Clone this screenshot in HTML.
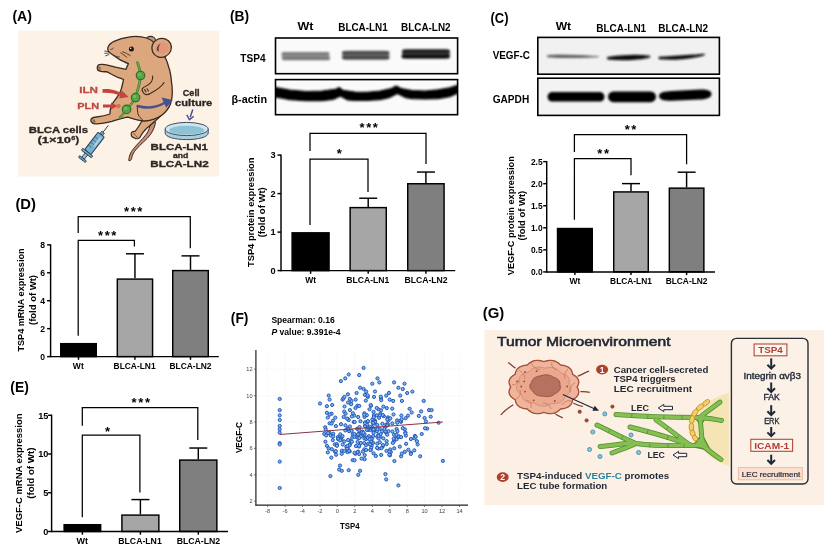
<!DOCTYPE html>
<html lang="en"><head><meta charset="utf-8"><title>Figure</title>
<style>html,body{margin:0;padding:0;background:#fff;}body{width:824px;height:554px;overflow:hidden;}svg{display:block;font-family:'Liberation Sans', 'DejaVu Sans', sans-serif;}</style>
</head><body>
<svg width="824" height="554" viewBox="0 0 824 554">
<defs><filter id="b1" x="-10%" y="-50%" width="120%" height="200%"><feGaussianBlur stdDeviation="1.1"/></filter><filter id="b2" x="-10%" y="-50%" width="120%" height="200%"><feGaussianBlur stdDeviation="0.8"/></filter><filter id="soft"><feGaussianBlur stdDeviation="0.4"/></filter></defs>
<rect width="824" height="554" fill="#fff"/>
<g filter="url(#soft)">
<text x="12.4" y="20.6" font-size="14.8" font-weight="bold" fill="#000" textLength="19.5" lengthAdjust="spacingAndGlyphs">(A)</text>
<text x="229.9" y="21.3" font-size="14.8" font-weight="bold" fill="#000" textLength="19.2" lengthAdjust="spacingAndGlyphs">(B)</text>
<text x="490.5" y="22.6" font-size="14.8" font-weight="bold" fill="#000" textLength="18" lengthAdjust="spacingAndGlyphs">(C)</text>
<text x="15.4" y="209" font-size="14.5" font-weight="bold" fill="#000" textLength="20.5" lengthAdjust="spacingAndGlyphs">(D)</text>
<text x="10.3" y="392" font-size="14.5" font-weight="bold" fill="#000" textLength="18.5" lengthAdjust="spacingAndGlyphs">(E)</text>
<text x="230.8" y="323.4" font-size="15" font-weight="bold" fill="#000" textLength="17.6" lengthAdjust="spacingAndGlyphs">(F)</text>
<text x="482.8" y="317.6" font-size="14.8" font-weight="bold" fill="#000" textLength="21.5" lengthAdjust="spacingAndGlyphs">(G)</text>
<text x="305.4" y="30" font-size="10.5" font-weight="bold" fill="#000" text-anchor="middle" textLength="16" lengthAdjust="spacingAndGlyphs">Wt</text>
<text x="363" y="30.5" font-size="10.5" font-weight="bold" fill="#000" text-anchor="middle" textLength="49.5" lengthAdjust="spacingAndGlyphs">BLCA-LN1</text>
<text x="425.8" y="30.5" font-size="10.5" font-weight="bold" fill="#000" text-anchor="middle" textLength="49.5" lengthAdjust="spacingAndGlyphs">BLCA-LN2</text>
<text x="240.3" y="61.5" font-size="10.5" font-weight="bold" fill="#000" textLength="25.2" lengthAdjust="spacingAndGlyphs">TSP4</text>
<text x="231.5" y="103" font-size="10.5" font-weight="bold" fill="#000" textLength="35.5" lengthAdjust="spacingAndGlyphs">β-actin</text>
<clipPath id="cb1"><rect x="276" y="38.6" width="181" height="34.5"/></clipPath>
<clipPath id="cb2"><rect x="276" y="80.2" width="181" height="34"/></clipPath>
<rect x="275.5" y="38" width="182.10" height="35.70" fill="#fafafa" stroke="#000" stroke-width="1.6"/>
<rect x="275.5" y="79.6" width="182.10" height="35.10" fill="#fafafa" stroke="#000" stroke-width="1.6"/>
<g clip-path="url(#cb1)"><g filter="url(#b1)">
<rect x="281.5" y="51.90" width="48.00" height="8.2" rx="4.10" fill="#a2a2a2"/>
<rect x="281.5" y="52.10" width="48.00" height="3.4" rx="1.70" fill="#7d7d7d"/>
<rect x="282" y="56.60" width="48.00" height="3.6" rx="1.80" fill="#777"/>
<rect x="342" y="50.80" width="47.50" height="8.6" rx="4.30" fill="#7a7a7a"/>
<rect x="342" y="51.00" width="47.50" height="3.6" rx="1.80" fill="#484848"/>
<rect x="342" y="55.70" width="47.50" height="3.8" rx="1.90" fill="#444"/>
<rect x="402" y="49.20" width="48.00" height="9.2" rx="4.60" fill="#555"/>
<rect x="402" y="49.60" width="48.00" height="3.6" rx="1.80" fill="#1a1a1a"/>
<rect x="401.5" y="54.30" width="48.50" height="4.2" rx="2.10" fill="#0c0c0c"/>
</g></g>
<g clip-path="url(#cb2)"><g filter="url(#b2)">
<path d="M272,87.5 L277.3,87.9 L290,90.2 L306.4,91.5 L322,91 L335.5,89.3 L339.2,87.6 L342.8,90.3 L355,92 L367.1,92.3 L380,91 L391.4,88.6 L396.2,86 L401.1,88.6 L412,90.6 L425.3,91 L438,89.8 L449.6,87.9 L456.9,85.5 L461,84.5 L461,92.5 L456.9,93.5 L449.6,96.6 L438,98.6 L425.3,99 L412,98.6 L405.9,97.6 L397.4,93.5 L388.9,97.6 L380,99.6 L367.1,100.3 L355,100.4 L347.7,100 L340.4,95.9 L333.1,99.5 L322,100.6 L306.4,100.7 L290,99.6 L279.7,97.6 L272,96.5 Z" fill="#000" stroke="#000" stroke-width="1.2" stroke-linejoin="round"/>
</g></g>
<rect x="292.12" y="232.83" width="36.95" height="37.77" fill="#000" stroke="#000" stroke-width="1.45"/>
<line x1="310.6" y1="270.6" x2="310.6" y2="273.8" stroke="#000" stroke-width="1.45"/>
<line x1="368.2" y1="206.88250000000002" x2="368.2" y2="198.22000000000003" stroke="#000" stroke-width="1.45"/>
<line x1="359.2" y1="198.22000000000003" x2="377.2" y2="198.22000000000003" stroke="#000" stroke-width="1.45"/>
<rect x="350.12" y="207.61" width="36.15" height="62.99" fill="#a6a6a6" stroke="#000" stroke-width="1.45"/>
<line x1="368.2" y1="270.6" x2="368.2" y2="273.8" stroke="#000" stroke-width="1.45"/>
<line x1="425.9" y1="183.01250000000005" x2="425.9" y2="172.04000000000002" stroke="#000" stroke-width="1.45"/>
<line x1="416.9" y1="172.04000000000002" x2="434.9" y2="172.04000000000002" stroke="#000" stroke-width="1.45"/>
<rect x="407.73" y="183.74" width="36.35" height="86.86" fill="#7f7f7f" stroke="#000" stroke-width="1.45"/>
<line x1="425.9" y1="270.6" x2="425.9" y2="273.8" stroke="#000" stroke-width="1.45"/>
<line x1="281" y1="154.50000000000003" x2="281" y2="271.20000000000005" stroke="#000" stroke-width="1.45"/>
<line x1="280.4" y1="270.6" x2="455.2" y2="270.6" stroke="#000" stroke-width="1.45"/>
<line x1="277.5" y1="270.6" x2="281" y2="270.6" stroke="#000" stroke-width="1.45"/>
<text x="275.5" y="273.91200000000003" font-size="9.2" font-weight="bold" fill="#000" text-anchor="end">0</text>
<line x1="277.5" y1="232.10000000000002" x2="281" y2="232.10000000000002" stroke="#000" stroke-width="1.45"/>
<text x="275.5" y="235.41200000000003" font-size="9.2" font-weight="bold" fill="#000" text-anchor="end">1</text>
<line x1="277.5" y1="193.60000000000002" x2="281" y2="193.60000000000002" stroke="#000" stroke-width="1.45"/>
<text x="275.5" y="196.91200000000003" font-size="9.2" font-weight="bold" fill="#000" text-anchor="end">2</text>
<line x1="277.5" y1="155.10000000000002" x2="281" y2="155.10000000000002" stroke="#000" stroke-width="1.45"/>
<text x="275.5" y="158.41200000000003" font-size="9.2" font-weight="bold" fill="#000" text-anchor="end">3</text>
<text x="310.6" y="282.9" font-size="8.5" font-weight="bold" fill="#000" text-anchor="middle">Wt</text>
<text x="367.8" y="282.9" font-size="8.5" font-weight="bold" fill="#000" text-anchor="middle" textLength="43" lengthAdjust="spacingAndGlyphs">BLCA-LN1</text>
<text x="426" y="282.9" font-size="8.5" font-weight="bold" fill="#000" text-anchor="middle" textLength="43.2" lengthAdjust="spacingAndGlyphs">BLCA-LN2</text>
<polyline points="310,151 310,133.3 426,133.3 426,164" fill="none" stroke="#000" stroke-width="1.25"/>
<text x="369.5" y="132.1" font-size="13" font-weight="bold" fill="#000" text-anchor="middle" letter-spacing="1.6">***</text>
<polyline points="310,225 310,159 368,159 368,192" fill="none" stroke="#000" stroke-width="1.25"/>
<text x="340" y="158.1" font-size="13" font-weight="bold" fill="#000" text-anchor="middle" letter-spacing="1.6">*</text>
<text transform="translate(253.96,212.30) rotate(-90)" font-size="9.6" font-weight="bold" fill="#000" text-anchor="middle" textLength="109.5" lengthAdjust="spacingAndGlyphs">TSP4 protein expression</text>
<text transform="translate(265.46,212.30) rotate(-90)" font-size="9.6" font-weight="bold" fill="#000" text-anchor="middle" textLength="50" lengthAdjust="spacingAndGlyphs">(fold of Wt)</text>
<text x="563.4" y="30" font-size="10.5" font-weight="bold" fill="#000" text-anchor="middle" textLength="15.5" lengthAdjust="spacingAndGlyphs">Wt</text>
<text x="621.2" y="32" font-size="10.5" font-weight="bold" fill="#000" text-anchor="middle" textLength="50" lengthAdjust="spacingAndGlyphs">BLCA-LN1</text>
<text x="683.2" y="31.5" font-size="10.5" font-weight="bold" fill="#000" text-anchor="middle" textLength="49.8" lengthAdjust="spacingAndGlyphs">BLCA-LN2</text>
<text x="492.7" y="59.3" font-size="10.5" font-weight="bold" fill="#000" textLength="37.3" lengthAdjust="spacingAndGlyphs">VEGF-C</text>
<text x="492.7" y="103" font-size="10.5" font-weight="bold" fill="#000" textLength="36.5" lengthAdjust="spacingAndGlyphs">GAPDH</text>
<clipPath id="cc1"><rect x="538.2" y="37.6" width="181" height="36.8"/></clipPath>
<clipPath id="cc2"><rect x="538.2" y="79" width="181" height="36.6"/></clipPath>
<rect x="537.8" y="37.4" width="181.60" height="36.80" fill="#f1f1f1" stroke="#000" stroke-width="1.6"/>
<rect x="537.8" y="78.2" width="181.60" height="37.20" fill="#f3f3f3" stroke="#000" stroke-width="1.6"/>
<g clip-path="url(#cc1)"><g filter="url(#b2)">
<path d="M547.5,55.6 C560,54.4 580,55.6 598.5,56.6 C580,58 560,57.8 547.5,56.8 Z" fill="#555" stroke="#666" stroke-width="1"/>
<path d="M608,57.8 C618,55.6 640,55.2 650,56.6 C640,59.6 618,60 608,58.6 Z" fill="#0a0a0a" stroke="#111" stroke-width="1.8"/>
<path d="M659.5,57.6 C672,56.6 692,55.6 704.5,54.6 C694,58.4 672,59.6 659.5,58.4 Z" fill="#0a0a0a" stroke="#111" stroke-width="1.6"/>
</g></g>
<g clip-path="url(#cc2)"><g filter="url(#b2)">
<rect x="547.5" y="92" width="57" height="9.6" rx="4.8" fill="#000"/>
<rect x="608" y="91.4" width="48" height="10.8" rx="5.4" fill="#000"/>
<path d="M659,96 C659,92.5 664,91.4 672,91 L700,89.6 C708,89.4 711.5,91 711.5,94 C711.5,97.5 707,99.2 700,99.6 L672,100.8 C664,101 659,99.5 659,96 Z" fill="#000"/>
</g></g>
<rect x="557.52" y="228.52" width="34.75" height="43.37" fill="#000" stroke="#000" stroke-width="1.45"/>
<line x1="574.9" y1="271.9" x2="574.9" y2="275.09999999999997" stroke="#000" stroke-width="1.45"/>
<line x1="631.0" y1="191.19699999999997" x2="631.0" y2="183.61179999999996" stroke="#000" stroke-width="1.45"/>
<line x1="622.0" y1="183.61179999999996" x2="640.0" y2="183.61179999999996" stroke="#000" stroke-width="1.45"/>
<rect x="613.73" y="191.92" width="34.55" height="79.98" fill="#a6a6a6" stroke="#000" stroke-width="1.45"/>
<line x1="631.0" y1="271.9" x2="631.0" y2="275.09999999999997" stroke="#000" stroke-width="1.45"/>
<line x1="686.6" y1="187.40439999999998" x2="686.6" y2="172.18989999999997" stroke="#000" stroke-width="1.45"/>
<line x1="677.6" y1="172.18989999999997" x2="695.6" y2="172.18989999999997" stroke="#000" stroke-width="1.45"/>
<rect x="669.33" y="188.13" width="34.55" height="83.77" fill="#7f7f7f" stroke="#000" stroke-width="1.45"/>
<line x1="686.6" y1="271.9" x2="686.6" y2="275.09999999999997" stroke="#000" stroke-width="1.45"/>
<line x1="546.7" y1="161.04999999999998" x2="546.7" y2="272.5" stroke="#000" stroke-width="1.45"/>
<line x1="546.1" y1="271.9" x2="715" y2="271.9" stroke="#000" stroke-width="1.45"/>
<line x1="543.2" y1="271.9" x2="546.7" y2="271.9" stroke="#000" stroke-width="1.45"/>
<text x="542.6" y="274.924" font-size="8.4" font-weight="bold" fill="#000" text-anchor="end">0.0</text>
<line x1="543.2" y1="249.84999999999997" x2="546.7" y2="249.84999999999997" stroke="#000" stroke-width="1.45"/>
<text x="542.6" y="252.87399999999997" font-size="8.4" font-weight="bold" fill="#000" text-anchor="end">0.5</text>
<line x1="543.2" y1="227.79999999999998" x2="546.7" y2="227.79999999999998" stroke="#000" stroke-width="1.45"/>
<text x="542.6" y="230.82399999999998" font-size="8.4" font-weight="bold" fill="#000" text-anchor="end">1.0</text>
<line x1="543.2" y1="205.74999999999997" x2="546.7" y2="205.74999999999997" stroke="#000" stroke-width="1.45"/>
<text x="542.6" y="208.77399999999997" font-size="8.4" font-weight="bold" fill="#000" text-anchor="end">1.5</text>
<line x1="543.2" y1="183.7" x2="546.7" y2="183.7" stroke="#000" stroke-width="1.45"/>
<text x="542.6" y="186.724" font-size="8.4" font-weight="bold" fill="#000" text-anchor="end">2.0</text>
<line x1="543.2" y1="161.64999999999998" x2="546.7" y2="161.64999999999998" stroke="#000" stroke-width="1.45"/>
<text x="542.6" y="164.67399999999998" font-size="8.4" font-weight="bold" fill="#000" text-anchor="end">2.5</text>
<text x="574.9" y="284.3" font-size="8.5" font-weight="bold" fill="#000" text-anchor="middle">Wt</text>
<text x="631" y="284.3" font-size="8.5" font-weight="bold" fill="#000" text-anchor="middle" textLength="41.8" lengthAdjust="spacingAndGlyphs">BLCA-LN1</text>
<text x="686.6" y="284.3" font-size="8.5" font-weight="bold" fill="#000" text-anchor="middle" textLength="41.8" lengthAdjust="spacingAndGlyphs">BLCA-LN2</text>
<polyline points="574.4,151.9 574.4,134.7 686.6,134.7 686.6,164.2" fill="none" stroke="#000" stroke-width="1.25"/>
<text x="631.3" y="134.1" font-size="13" font-weight="bold" fill="#000" text-anchor="middle" letter-spacing="1.6">**</text>
<polyline points="574.4,219.8 574.4,158.7 631,158.7 631,175.2" fill="none" stroke="#000" stroke-width="1.25"/>
<text x="603.9" y="158.1" font-size="13" font-weight="bold" fill="#000" text-anchor="middle" letter-spacing="1.6">**</text>
<text transform="translate(514.46,215.70) rotate(-90)" font-size="9.6" font-weight="bold" fill="#000" text-anchor="middle" textLength="118.9" lengthAdjust="spacingAndGlyphs">VEGF-C protein expression</text>
<text transform="translate(525.46,215.70) rotate(-90)" font-size="9.6" font-weight="bold" fill="#000" text-anchor="middle" textLength="49.7" lengthAdjust="spacingAndGlyphs">(fold of Wt)</text>
<rect x="60.73" y="343.68" width="35.55" height="12.92" fill="#000" stroke="#000" stroke-width="1.45"/>
<line x1="78.5" y1="356.6" x2="78.5" y2="359.8" stroke="#000" stroke-width="1.45"/>
<line x1="134.95" y1="278.36800000000005" x2="134.95" y2="253.78080000000003" stroke="#000" stroke-width="1.45"/>
<line x1="125.94999999999999" y1="253.78080000000003" x2="143.95" y2="253.78080000000003" stroke="#000" stroke-width="1.45"/>
<rect x="117.32" y="279.09" width="35.25" height="77.51" fill="#a6a6a6" stroke="#000" stroke-width="1.45"/>
<line x1="134.95" y1="356.6" x2="134.95" y2="359.8" stroke="#000" stroke-width="1.45"/>
<line x1="190.5" y1="269.84630000000004" x2="190.5" y2="255.87630000000001" stroke="#000" stroke-width="1.45"/>
<line x1="181.5" y1="255.87630000000001" x2="199.5" y2="255.87630000000001" stroke="#000" stroke-width="1.45"/>
<rect x="172.72" y="270.57" width="35.55" height="86.03" fill="#7f7f7f" stroke="#000" stroke-width="1.45"/>
<line x1="190.5" y1="356.6" x2="190.5" y2="359.8" stroke="#000" stroke-width="1.45"/>
<line x1="50.6" y1="244.24000000000004" x2="50.6" y2="357.20000000000005" stroke="#000" stroke-width="1.45"/>
<line x1="50.0" y1="356.6" x2="218.8" y2="356.6" stroke="#000" stroke-width="1.45"/>
<line x1="47.1" y1="356.6" x2="50.6" y2="356.6" stroke="#000" stroke-width="1.45"/>
<text x="45.1" y="359.696" font-size="8.6" font-weight="bold" fill="#000" text-anchor="end">0</text>
<line x1="47.1" y1="328.66" x2="50.6" y2="328.66" stroke="#000" stroke-width="1.45"/>
<text x="45.1" y="331.75600000000003" font-size="8.6" font-weight="bold" fill="#000" text-anchor="end">2</text>
<line x1="47.1" y1="300.72" x2="50.6" y2="300.72" stroke="#000" stroke-width="1.45"/>
<text x="45.1" y="303.81600000000003" font-size="8.6" font-weight="bold" fill="#000" text-anchor="end">4</text>
<line x1="47.1" y1="272.78000000000003" x2="50.6" y2="272.78000000000003" stroke="#000" stroke-width="1.45"/>
<text x="45.1" y="275.87600000000003" font-size="8.6" font-weight="bold" fill="#000" text-anchor="end">6</text>
<line x1="47.1" y1="244.84000000000003" x2="50.6" y2="244.84000000000003" stroke="#000" stroke-width="1.45"/>
<text x="45.1" y="247.93600000000004" font-size="8.6" font-weight="bold" fill="#000" text-anchor="end">8</text>
<text x="78.3" y="368.9" font-size="8.5" font-weight="bold" fill="#000" text-anchor="middle">Wt</text>
<text x="134.6" y="368.9" font-size="8.5" font-weight="bold" fill="#000" text-anchor="middle" textLength="42" lengthAdjust="spacingAndGlyphs">BLCA-LN1</text>
<text x="190.5" y="368.9" font-size="8.5" font-weight="bold" fill="#000" text-anchor="middle" textLength="42" lengthAdjust="spacingAndGlyphs">BLCA-LN2</text>
<polyline points="78.2,232.9 78.2,216.6 190.3,216.6 190.3,248.3" fill="none" stroke="#000" stroke-width="1.25"/>
<text x="134" y="216.2" font-size="13" font-weight="bold" fill="#000" text-anchor="middle" letter-spacing="1.6">***</text>
<polyline points="78.2,335.7 78.2,240.3 134.4,240.3 134.4,246.6" fill="none" stroke="#000" stroke-width="1.25"/>
<text x="108" y="240.0" font-size="13" font-weight="bold" fill="#000" text-anchor="middle" letter-spacing="1.6">***</text>
<text transform="translate(24.06,300.00) rotate(-90)" font-size="9.6" font-weight="bold" fill="#000" text-anchor="middle" textLength="103" lengthAdjust="spacingAndGlyphs">TSP4 mRNA expression</text>
<text transform="translate(35.66,300.00) rotate(-90)" font-size="9.6" font-weight="bold" fill="#000" text-anchor="middle" textLength="50" lengthAdjust="spacingAndGlyphs">(fold of Wt)</text>
<rect x="64.12" y="524.71" width="36.55" height="6.79" fill="#000" stroke="#000" stroke-width="1.45"/>
<line x1="82.4" y1="531.5" x2="82.4" y2="534.7" stroke="#000" stroke-width="1.45"/>
<line x1="140.4" y1="514.3725" x2="140.4" y2="499.57" stroke="#000" stroke-width="1.45"/>
<line x1="131.4" y1="499.57" x2="149.4" y2="499.57" stroke="#000" stroke-width="1.45"/>
<rect x="121.92" y="515.10" width="36.95" height="16.40" fill="#a6a6a6" stroke="#000" stroke-width="1.45"/>
<line x1="140.4" y1="531.5" x2="140.4" y2="534.7" stroke="#000" stroke-width="1.45"/>
<line x1="198.3" y1="459.34749999999997" x2="198.3" y2="448.0325" stroke="#000" stroke-width="1.45"/>
<line x1="189.3" y1="448.0325" x2="207.3" y2="448.0325" stroke="#000" stroke-width="1.45"/>
<rect x="179.72" y="460.07" width="37.15" height="71.43" fill="#7f7f7f" stroke="#000" stroke-width="1.45"/>
<line x1="198.3" y1="531.5" x2="198.3" y2="534.7" stroke="#000" stroke-width="1.45"/>
<line x1="51.6" y1="414.65" x2="51.6" y2="532.1" stroke="#000" stroke-width="1.45"/>
<line x1="51.0" y1="531.5" x2="228" y2="531.5" stroke="#000" stroke-width="1.45"/>
<line x1="48.1" y1="531.5" x2="51.6" y2="531.5" stroke="#000" stroke-width="1.45"/>
<text x="48.4" y="534.812" font-size="9.2" font-weight="bold" fill="#000" text-anchor="end">0</text>
<line x1="48.1" y1="492.75" x2="51.6" y2="492.75" stroke="#000" stroke-width="1.45"/>
<text x="48.4" y="496.062" font-size="9.2" font-weight="bold" fill="#000" text-anchor="end">5</text>
<line x1="48.1" y1="454.0" x2="51.6" y2="454.0" stroke="#000" stroke-width="1.45"/>
<text x="48.4" y="457.312" font-size="9.2" font-weight="bold" fill="#000" text-anchor="end">10</text>
<line x1="48.1" y1="415.25" x2="51.6" y2="415.25" stroke="#000" stroke-width="1.45"/>
<text x="48.4" y="418.562" font-size="9.2" font-weight="bold" fill="#000" text-anchor="end">15</text>
<text x="82.3" y="544.1" font-size="9" font-weight="bold" fill="#000" text-anchor="middle">Wt</text>
<text x="140" y="544.1" font-size="9" font-weight="bold" fill="#000" text-anchor="middle" textLength="43.5" lengthAdjust="spacingAndGlyphs">BLCA-LN1</text>
<text x="198.4" y="544.1" font-size="9" font-weight="bold" fill="#000" text-anchor="middle" textLength="43.5" lengthAdjust="spacingAndGlyphs">BLCA-LN2</text>
<polyline points="82.3,425.7 82.3,407.5 197.8,407.5 197.8,440.1" fill="none" stroke="#000" stroke-width="1.25"/>
<text x="141.6" y="407.40000000000003" font-size="13" font-weight="bold" fill="#000" text-anchor="middle" letter-spacing="1.6">***</text>
<polyline points="82.3,517.3 82.3,435 139.9,435 139.9,492.6" fill="none" stroke="#000" stroke-width="1.25"/>
<text x="108.3" y="435.6" font-size="13" font-weight="bold" fill="#000" text-anchor="middle" letter-spacing="1.6">*</text>
<text transform="translate(21.73,473.20) rotate(-90)" font-size="9.8" font-weight="bold" fill="#000" text-anchor="middle" textLength="119.5" lengthAdjust="spacingAndGlyphs">VEGF-C mRNA expression</text>
<text transform="translate(33.53,473.20) rotate(-90)" font-size="9.8" font-weight="bold" fill="#000" text-anchor="middle" textLength="51.3" lengthAdjust="spacingAndGlyphs">(fold of Wt)</text>
<g id="panelA">
<rect x="18.2" y="30.5" width="200.8" height="146" fill="#fdf2e6"/>
<path d="M151,121.5 C150,127 148.5,131 146.5,134 C142,140 135,146 131.5,151.5 C129.5,155 128.8,158 128.8,160.6 C130.4,161 131.4,160 131.6,158.5 C132,155.5 133.5,152.5 136,149.5 C140,144.5 147,139.5 150.5,134.5 C153.5,130 155,126 155.5,122 Z" fill="#c98e76" stroke="#3a2a22" stroke-width="1"/>
<ellipse cx="150.5" cy="40.6" rx="5" ry="4.2" fill="#b59b88" stroke="#3a2a22" stroke-width="1.1"/>
<path d="M160,100 C168,102 168,108 164.5,112 C160,117 153,123 147,128 C144,131 142,133.5 141,135.5 C140,138.5 137,139.6 134.5,138 C132.5,137.5 131,135.5 131.2,133.5 C131.3,132 133,131 135,131.5 C137,129 139,126 142.6,120 Z" fill="#dca77c" stroke="#3a2a22" stroke-width="1.2" stroke-linejoin="round"/>
<path d="M133.2,133 L135.4,135 M135.6,135.6 L137.6,137.4" stroke="#3a2a22" stroke-width="0.7" fill="none"/>
<path d="M107.8,48 C108.5,45 111,42.8 114,41.4 C118,39.4 124,37.6 130,36.8 C136,36 142,36.6 146.5,38 C150,39.2 152.5,41 154,43 L165,57 C167,61 168,64 169,68 C170.5,72 171,76.5 171.4,81 C172,85 172.3,89 172.3,92.6 C172.3,96.5 171.8,100 170.6,103.5 C169,108 166,112 162,115 C157,118.6 151,120.6 145,121 C140,121.3 135,119.5 128,117.2 C124,117.6 118,119.6 112,121.4 C106,123 100,124 95,123.8 C92,123.6 90.4,121.4 91,119.6 C91.6,118 94,117.2 96.4,117 C101,116.4 106,115.4 109.9,114 C110,111 110.4,108.5 111.3,106 C112.6,102.5 114.5,100.5 116.5,98 C119,95 120.4,92.5 121.2,89.4 C122,86 123,82.5 123.5,79.6 C122.8,79.2 122.2,79 121.6,78.7 C118,77.6 115,76.2 113,75 C110.6,73.8 108.5,72.6 106.4,71.7 C104,71.8 102,71.8 100,71.2 C98.4,70.8 97.4,70 97.3,68.6 C97.2,67 97.4,66 97.8,65.6 C98.6,64.6 99.6,64.4 100.6,64.4 C102.6,64.2 104.6,64.4 106.4,64.8 C110,65.4 113,66.4 116,67.2 C119.4,68 122.6,68.8 126,69.4 C126.6,67.6 127.4,65.6 128.4,63.6 C126.4,62.8 125,62.2 124,61.6 C121.6,60.6 119.6,59.6 118,58.4 C116,57.2 114.4,56 113,55 C110.6,53.4 109,52.4 108.3,51 C107.8,50 107.6,49 107.8,48 Z" fill="#dca77c" stroke="#3a2a22" stroke-width="1.3" stroke-linejoin="round"/>
<ellipse cx="161.6" cy="47.8" rx="9.9" ry="9.4" fill="#dca77c" stroke="#3a2a22" stroke-width="1.3" transform="rotate(-25 161.6 47.8)"/>
<ellipse cx="162.4" cy="48.2" rx="6.6" ry="5.8" fill="#e0977a" transform="rotate(-25 162.4 48.2)"/>
<path d="M156.6,50.6 C156.4,47 158,44.4 160.6,43.2 C159,45.4 158.4,48.6 159,51.6 Z" fill="#6d4a3c"/>
<circle cx="131.4" cy="49" r="2.5" fill="#1a1210"/><circle cx="130.7" cy="48.2" r="0.75" fill="#fff"/>
<path d="M104.2,51 L108.8,51.6 M104.4,53.4 L109,53 M105.2,56 L109.4,54.4 M110.2,49.4 C111.6,49.6 113,48.8 113.6,47.6 M114,55 C115.6,56.6 117.6,57.2 119.6,56.8 M120.4,52.6 C122.6,54 125,55.6 127.2,57.6 M122.2,51.6 C125,52.6 128,54 130.6,55.8" fill="none" stroke="#3a2a22" stroke-width="0.8"/>
<path d="M152.6,76.1 C152.8,79 152,81.6 150,83.4 C148,85.2 145.4,86.4 143.4,87.6 C142,88.6 141.8,90.4 142.8,91.8 C143.4,93.2 144.6,94.4 146,94.6 C147.6,94.8 149.2,94.2 150.7,93.2 C154,91.4 157,89.6 159.4,87.6 C161.4,86 163,84.4 164,82.5 M144.6,89.6 L146,91.8 M147,88.8 L148.4,91" fill="none" stroke="#3a2a22" stroke-width="1.1" stroke-linecap="round"/>
<path d="M137.5,105.3 C137.2,109 137.4,112 138.3,114.8 C139.2,117 140.6,118.4 142.6,119.6" fill="none" stroke="#3a2a22" stroke-width="1"/>
<path d="M98,67 L100.6,67.4 M98.4,69 L101,69 M92.4,120 L95,120.4 M93,122 L95.6,121.8" fill="none" stroke="#3a2a22" stroke-width="0.7"/>
<path d="M137.5,62.5 C139,68 141,72 140.5,76 C140,84 137,92 135.5,97.5 C132,104 128,108 126.5,110 L120,117.5" fill="none" stroke="#3d7a2e" stroke-width="2.6" stroke-linecap="round"/>
<path d="M137.5,62.5 C139,68 141,72 140.5,76 C140,84 137,92 135.5,97.5 C132,104 128,108 126.5,110 L120,117.5" fill="none" stroke="#6fb04a" stroke-width="1.2" stroke-linecap="round"/>
<circle cx="140.5" cy="75.5" r="4.3" fill="#55a545" stroke="#2e6b2a" stroke-width="1.1"/>
<circle cx="139.5" cy="74.5" r="1.6" fill="#7cc25f" opacity="0.8"/>
<circle cx="135.6" cy="97.6" r="4.3" fill="#55a545" stroke="#2e6b2a" stroke-width="1.1"/>
<circle cx="134.6" cy="96.6" r="1.6" fill="#7cc25f" opacity="0.8"/>
<circle cx="126.6" cy="109.4" r="4.3" fill="#55a545" stroke="#2e6b2a" stroke-width="1.1"/>
<circle cx="125.6" cy="108.4" r="1.6" fill="#7cc25f" opacity="0.8"/>
<text x="79.3" y="93.4" font-size="9.4" font-weight="bold" fill="#bf4a44" textLength="18.7" lengthAdjust="spacingAndGlyphs" stroke="#bf4a44" stroke-width="0.3">ILN</text>
<text x="77.3" y="108.9" font-size="9.4" font-weight="bold" fill="#bf4a44" textLength="21.9" lengthAdjust="spacingAndGlyphs" stroke="#bf4a44" stroke-width="0.3">PLN</text>
<path d="M102.5,89.2 C110,88.5 117,90.5 121,93 L122,90.5 L128.5,97 L119,98.5 L120,95.8 C116,93.5 110,92.6 102.5,92.8 Z" fill="#c6423c"/>
<path d="M103,104.6 L111,104.6 L111,102.6 L117.5,106 L111,109.4 L111,107.4 L103,107.4 Z" fill="#c6423c"/>
<circle cx="118.5" cy="106" r="2.2" fill="#d2604e" opacity="0.8"/>
<path d="M137.5,106 C146,108.6 156,107.6 164.5,103" fill="none" stroke="#46508f" stroke-width="2.4" stroke-linecap="round"/><path d="M161.6,97.6 L172.8,100 L166.2,107.8 Z" fill="#46508f"/>
<text x="182.7" y="96.4" font-size="9.2" font-weight="bold" fill="#2b2624" textLength="16.8" lengthAdjust="spacingAndGlyphs" stroke="#2b2624" stroke-width="0.3">Cell</text>
<text x="175.1" y="105.5" font-size="9.2" font-weight="bold" fill="#2b2624" textLength="37.2" lengthAdjust="spacingAndGlyphs" stroke="#2b2624" stroke-width="0.3">culture</text>
<path d="M192.8,109.5 L190.2,117" stroke="#46508f" stroke-width="1.5" fill="none"/><path d="M186.8,114.8 L189.4,119.6 L193.6,116.4" stroke="#46508f" stroke-width="1.4" fill="none"/>
<path d="M165.2,129 L165.2,133 C165.2,137 175,139.6 186.7,139.6 C198.4,139.6 208.2,137 208.2,133 L208.2,129 Z" fill="#a9cfdd" stroke="#3c4f63" stroke-width="1"/>
<ellipse cx="186.7" cy="129" rx="21.5" ry="6.6" fill="#cfe6ee" stroke="#3c4f63" stroke-width="1"/>
<ellipse cx="186.7" cy="130.2" rx="17.5" ry="4.4" fill="#8ec3d6"/>
<text x="150.6" y="150" font-size="8.8" font-weight="bold" fill="#2b2624" textLength="57.4" lengthAdjust="spacingAndGlyphs" stroke="#2b2624" stroke-width="0.3">BLCA-LN1</text>
<text x="173" y="158" font-size="7.2" font-weight="bold" fill="#2b2624" textLength="15.4" lengthAdjust="spacingAndGlyphs" stroke="#2b2624" stroke-width="0.3">and</text>
<text x="150.3" y="167" font-size="8.8" font-weight="bold" fill="#2b2624" textLength="58.4" lengthAdjust="spacingAndGlyphs" stroke="#2b2624" stroke-width="0.3">BLCA-LN2</text>
<text x="28.8" y="132.8" font-size="9" font-weight="bold" fill="#2b2624" textLength="59.2" lengthAdjust="spacingAndGlyphs" stroke="#2b2624" stroke-width="0.3">BLCA cells</text>
<text x="37.4" y="143.2" font-size="9" font-weight="bold" fill="#2b2624" textLength="33.5" lengthAdjust="spacingAndGlyphs" stroke="#2b2624" stroke-width="0.3">(1×10</text>
<text x="71.2" y="140" font-size="6" font-weight="bold" fill="#2b2624" textLength="4" lengthAdjust="spacingAndGlyphs" stroke="#2b2624" stroke-width="0.3">6</text>
<text x="75.4" y="143.2" font-size="9" font-weight="bold" fill="#2b2624" textLength="3.6" lengthAdjust="spacingAndGlyphs" stroke="#2b2624" stroke-width="0.3">)</text>
<g transform="translate(108.2,125.5) rotate(127.5)">
<line x1="0" y1="0" x2="8.5" y2="0" stroke="#2b3f55" stroke-width="0.9"/>
<rect x="8.5" y="-1.6" width="3" height="3.2" fill="#6ea6c4" stroke="#2b3f55" stroke-width="0.8"/>
<rect x="11.5" y="-4" width="22" height="8" rx="1" fill="#78b1cf" stroke="#2b3f55" stroke-width="1"/>
<rect x="14" y="-2.6" width="11" height="2" fill="#b7d9e8" opacity="0.8"/>
<path d="M17,0 L17,4 M20.5,0 L20.5,4 M24,0 L24,4 M27.5,0 L27.5,4" stroke="#2b3f55" stroke-width="0.6"/>
<rect x="33.5" y="-6.4" width="2.4" height="12.8" rx="0.8" fill="#6ea6c4" stroke="#2b3f55" stroke-width="0.9"/>
<rect x="35.9" y="-1.6" width="5.4" height="3.2" fill="#8fc0d9" stroke="#2b3f55" stroke-width="0.8"/>
<rect x="41.3" y="-4.4" width="2" height="8.8" rx="0.8" fill="#6ea6c4" stroke="#2b3f55" stroke-width="0.9"/>
</g>
</g>
<text x="271.4" y="322.8" font-size="8.6" font-weight="bold" fill="#000" textLength="63.3" lengthAdjust="spacingAndGlyphs">Spearman: 0.16</text>
<text x="271.4" y="334.8" font-size="8.6" font-weight="bold" textLength="69.2" lengthAdjust="spacingAndGlyphs"><tspan font-style="italic">P</tspan> value: 9.391e-4</text>
<g id="panelF">
<line x1="267.6" y1="351" x2="267.6" y2="505" stroke="#e9e9ee" stroke-width="0.5" stroke-dasharray="1.2 1.2"/>
<line x1="285.1" y1="351" x2="285.1" y2="505" stroke="#e9e9ee" stroke-width="0.5" stroke-dasharray="1.2 1.2"/>
<line x1="302.5" y1="351" x2="302.5" y2="505" stroke="#e9e9ee" stroke-width="0.5" stroke-dasharray="1.2 1.2"/>
<line x1="320.0" y1="351" x2="320.0" y2="505" stroke="#e9e9ee" stroke-width="0.5" stroke-dasharray="1.2 1.2"/>
<line x1="337.4" y1="351" x2="337.4" y2="505" stroke="#e9e9ee" stroke-width="0.5" stroke-dasharray="1.2 1.2"/>
<line x1="354.8" y1="351" x2="354.8" y2="505" stroke="#e9e9ee" stroke-width="0.5" stroke-dasharray="1.2 1.2"/>
<line x1="372.3" y1="351" x2="372.3" y2="505" stroke="#e9e9ee" stroke-width="0.5" stroke-dasharray="1.2 1.2"/>
<line x1="389.7" y1="351" x2="389.7" y2="505" stroke="#e9e9ee" stroke-width="0.5" stroke-dasharray="1.2 1.2"/>
<line x1="407.2" y1="351" x2="407.2" y2="505" stroke="#e9e9ee" stroke-width="0.5" stroke-dasharray="1.2 1.2"/>
<line x1="424.6" y1="351" x2="424.6" y2="505" stroke="#e9e9ee" stroke-width="0.5" stroke-dasharray="1.2 1.2"/>
<line x1="442.0" y1="351" x2="442.0" y2="505" stroke="#e9e9ee" stroke-width="0.5" stroke-dasharray="1.2 1.2"/>
<line x1="459.5" y1="351" x2="459.5" y2="505" stroke="#e9e9ee" stroke-width="0.5" stroke-dasharray="1.2 1.2"/>
<line x1="256" y1="501.2" x2="468" y2="501.2" stroke="#e9e9ee" stroke-width="0.5" stroke-dasharray="1.2 1.2"/>
<line x1="256" y1="474.8" x2="468" y2="474.8" stroke="#e9e9ee" stroke-width="0.5" stroke-dasharray="1.2 1.2"/>
<line x1="256" y1="448.4" x2="468" y2="448.4" stroke="#e9e9ee" stroke-width="0.5" stroke-dasharray="1.2 1.2"/>
<line x1="256" y1="422.0" x2="468" y2="422.0" stroke="#e9e9ee" stroke-width="0.5" stroke-dasharray="1.2 1.2"/>
<line x1="256" y1="395.6" x2="468" y2="395.6" stroke="#e9e9ee" stroke-width="0.5" stroke-dasharray="1.2 1.2"/>
<line x1="256" y1="369.2" x2="468" y2="369.2" stroke="#e9e9ee" stroke-width="0.5" stroke-dasharray="1.2 1.2"/>
<line x1="255.9" y1="350" x2="255.9" y2="505.6" stroke="#222" stroke-width="1.2"/>
<line x1="255.4" y1="505.2" x2="468" y2="505.2" stroke="#222" stroke-width="1.2"/>
<line x1="267.6" y1="505.2" x2="267.6" y2="507" stroke="#444" stroke-width="0.7"/>
<text x="267.6" y="513" font-size="5.6" font-weight="normal" fill="#444" text-anchor="middle">-8</text>
<line x1="285.1" y1="505.2" x2="285.1" y2="507" stroke="#444" stroke-width="0.7"/>
<text x="285.1" y="513" font-size="5.6" font-weight="normal" fill="#444" text-anchor="middle">-6</text>
<line x1="302.5" y1="505.2" x2="302.5" y2="507" stroke="#444" stroke-width="0.7"/>
<text x="302.5" y="513" font-size="5.6" font-weight="normal" fill="#444" text-anchor="middle">-4</text>
<line x1="320.0" y1="505.2" x2="320.0" y2="507" stroke="#444" stroke-width="0.7"/>
<text x="320.0" y="513" font-size="5.6" font-weight="normal" fill="#444" text-anchor="middle">-2</text>
<line x1="337.4" y1="505.2" x2="337.4" y2="507" stroke="#444" stroke-width="0.7"/>
<text x="337.4" y="513" font-size="5.6" font-weight="normal" fill="#444" text-anchor="middle">0</text>
<line x1="354.8" y1="505.2" x2="354.8" y2="507" stroke="#444" stroke-width="0.7"/>
<text x="354.8" y="513" font-size="5.6" font-weight="normal" fill="#444" text-anchor="middle">2</text>
<line x1="372.3" y1="505.2" x2="372.3" y2="507" stroke="#444" stroke-width="0.7"/>
<text x="372.3" y="513" font-size="5.6" font-weight="normal" fill="#444" text-anchor="middle">4</text>
<line x1="389.7" y1="505.2" x2="389.7" y2="507" stroke="#444" stroke-width="0.7"/>
<text x="389.7" y="513" font-size="5.6" font-weight="normal" fill="#444" text-anchor="middle">6</text>
<line x1="407.2" y1="505.2" x2="407.2" y2="507" stroke="#444" stroke-width="0.7"/>
<text x="407.2" y="513" font-size="5.6" font-weight="normal" fill="#444" text-anchor="middle">8</text>
<line x1="424.6" y1="505.2" x2="424.6" y2="507" stroke="#444" stroke-width="0.7"/>
<text x="424.6" y="513" font-size="5.6" font-weight="normal" fill="#444" text-anchor="middle">10</text>
<line x1="442.0" y1="505.2" x2="442.0" y2="507" stroke="#444" stroke-width="0.7"/>
<text x="442.0" y="513" font-size="5.6" font-weight="normal" fill="#444" text-anchor="middle">12</text>
<line x1="459.5" y1="505.2" x2="459.5" y2="507" stroke="#444" stroke-width="0.7"/>
<text x="459.5" y="513" font-size="5.6" font-weight="normal" fill="#444" text-anchor="middle">14</text>
<line x1="254" y1="501.2" x2="255.9" y2="501.2" stroke="#444" stroke-width="0.7"/>
<text x="252.6" y="503.2" font-size="5.6" font-weight="normal" fill="#444" text-anchor="end">2</text>
<line x1="254" y1="474.8" x2="255.9" y2="474.8" stroke="#444" stroke-width="0.7"/>
<text x="252.6" y="476.8" font-size="5.6" font-weight="normal" fill="#444" text-anchor="end">4</text>
<line x1="254" y1="448.4" x2="255.9" y2="448.4" stroke="#444" stroke-width="0.7"/>
<text x="252.6" y="450.4" font-size="5.6" font-weight="normal" fill="#444" text-anchor="end">6</text>
<line x1="254" y1="422.0" x2="255.9" y2="422.0" stroke="#444" stroke-width="0.7"/>
<text x="252.6" y="424.0" font-size="5.6" font-weight="normal" fill="#444" text-anchor="end">8</text>
<line x1="254" y1="395.6" x2="255.9" y2="395.6" stroke="#444" stroke-width="0.7"/>
<text x="252.6" y="397.6" font-size="5.6" font-weight="normal" fill="#444" text-anchor="end">10</text>
<line x1="254" y1="369.2" x2="255.9" y2="369.2" stroke="#444" stroke-width="0.7"/>
<text x="252.6" y="371.2" font-size="5.6" font-weight="normal" fill="#444" text-anchor="end">12</text>
<circle cx="279.7" cy="398.9" r="1.6" fill="#7ab6f5" stroke="#2456b4" stroke-width="1.0"/>
<circle cx="279.7" cy="410.1" r="1.6" fill="#7ab6f5" stroke="#2456b4" stroke-width="1.0"/>
<circle cx="279.7" cy="415.4" r="1.6" fill="#7ab6f5" stroke="#2456b4" stroke-width="1.0"/>
<circle cx="279.7" cy="420.0" r="1.6" fill="#7ab6f5" stroke="#2456b4" stroke-width="1.0"/>
<circle cx="279.7" cy="426.0" r="1.6" fill="#7ab6f5" stroke="#2456b4" stroke-width="1.0"/>
<circle cx="279.7" cy="429.3" r="1.6" fill="#7ab6f5" stroke="#2456b4" stroke-width="1.0"/>
<circle cx="279.7" cy="432.6" r="1.6" fill="#7ab6f5" stroke="#2456b4" stroke-width="1.0"/>
<circle cx="279.7" cy="443.1" r="1.6" fill="#7ab6f5" stroke="#2456b4" stroke-width="1.0"/>
<circle cx="279.7" cy="444.4" r="1.6" fill="#7ab6f5" stroke="#2456b4" stroke-width="1.0"/>
<circle cx="279.7" cy="461.6" r="1.6" fill="#7ab6f5" stroke="#2456b4" stroke-width="1.0"/>
<circle cx="279.7" cy="488.0" r="1.6" fill="#7ab6f5" stroke="#2456b4" stroke-width="1.0"/>
<circle cx="363.6" cy="367.9" r="1.6" fill="#7ab6f5" stroke="#2456b4" stroke-width="1.0"/>
<circle cx="348.7" cy="374.5" r="1.6" fill="#7ab6f5" stroke="#2456b4" stroke-width="1.0"/>
<circle cx="359.2" cy="375.1" r="1.6" fill="#7ab6f5" stroke="#2456b4" stroke-width="1.0"/>
<circle cx="340.9" cy="381.1" r="1.6" fill="#7ab6f5" stroke="#2456b4" stroke-width="1.0"/>
<circle cx="345.2" cy="378.4" r="1.6" fill="#7ab6f5" stroke="#2456b4" stroke-width="1.0"/>
<circle cx="377.5" cy="378.4" r="1.6" fill="#7ab6f5" stroke="#2456b4" stroke-width="1.0"/>
<circle cx="379.3" cy="382.4" r="1.6" fill="#7ab6f5" stroke="#2456b4" stroke-width="1.0"/>
<circle cx="394.1" cy="382.4" r="1.6" fill="#7ab6f5" stroke="#2456b4" stroke-width="1.0"/>
<circle cx="404.5" cy="383.7" r="1.6" fill="#7ab6f5" stroke="#2456b4" stroke-width="1.0"/>
<circle cx="372.3" cy="383.7" r="1.6" fill="#7ab6f5" stroke="#2456b4" stroke-width="1.0"/>
<circle cx="398.4" cy="387.7" r="1.6" fill="#7ab6f5" stroke="#2456b4" stroke-width="1.0"/>
<circle cx="402.8" cy="389.0" r="1.6" fill="#7ab6f5" stroke="#2456b4" stroke-width="1.0"/>
<circle cx="412.4" cy="391.6" r="1.6" fill="#7ab6f5" stroke="#2456b4" stroke-width="1.0"/>
<circle cx="407.2" cy="393.0" r="1.6" fill="#7ab6f5" stroke="#2456b4" stroke-width="1.0"/>
<circle cx="320.0" cy="403.5" r="1.6" fill="#7ab6f5" stroke="#2456b4" stroke-width="1.0"/>
<circle cx="328.7" cy="395.6" r="1.6" fill="#7ab6f5" stroke="#2456b4" stroke-width="1.0"/>
<circle cx="329.6" cy="399.6" r="1.6" fill="#7ab6f5" stroke="#2456b4" stroke-width="1.0"/>
<circle cx="326.9" cy="406.2" r="1.6" fill="#7ab6f5" stroke="#2456b4" stroke-width="1.0"/>
<circle cx="326.9" cy="412.8" r="1.6" fill="#7ab6f5" stroke="#2456b4" stroke-width="1.0"/>
<circle cx="423.7" cy="400.9" r="1.6" fill="#7ab6f5" stroke="#2456b4" stroke-width="1.0"/>
<circle cx="442.9" cy="460.9" r="1.6" fill="#7ab6f5" stroke="#2456b4" stroke-width="1.0"/>
<circle cx="398.4" cy="485.4" r="1.6" fill="#7ab6f5" stroke="#2456b4" stroke-width="1.0"/>
<circle cx="385.4" cy="474.1" r="1.6" fill="#7ab6f5" stroke="#2456b4" stroke-width="1.0"/>
<circle cx="386.2" cy="479.4" r="1.6" fill="#7ab6f5" stroke="#2456b4" stroke-width="1.0"/>
<circle cx="330.4" cy="476.1" r="1.6" fill="#7ab6f5" stroke="#2456b4" stroke-width="1.0"/>
<circle cx="358.3" cy="474.8" r="1.6" fill="#7ab6f5" stroke="#2456b4" stroke-width="1.0"/>
<circle cx="360.1" cy="470.8" r="1.6" fill="#7ab6f5" stroke="#2456b4" stroke-width="1.0"/>
<circle cx="340.0" cy="465.6" r="1.6" fill="#7ab6f5" stroke="#2456b4" stroke-width="1.0"/>
<circle cx="339.1" cy="469.5" r="1.6" fill="#7ab6f5" stroke="#2456b4" stroke-width="1.0"/>
<circle cx="341.8" cy="470.8" r="1.6" fill="#7ab6f5" stroke="#2456b4" stroke-width="1.0"/>
<circle cx="348.7" cy="470.2" r="1.6" fill="#7ab6f5" stroke="#2456b4" stroke-width="1.0"/>
<circle cx="420.2" cy="456.3" r="1.6" fill="#7ab6f5" stroke="#2456b4" stroke-width="1.0"/>
<circle cx="401.1" cy="456.3" r="1.6" fill="#7ab6f5" stroke="#2456b4" stroke-width="1.0"/>
<circle cx="417.6" cy="444.4" r="1.6" fill="#7ab6f5" stroke="#2456b4" stroke-width="1.0"/>
<circle cx="438.6" cy="422.7" r="1.6" fill="#7ab6f5" stroke="#2456b4" stroke-width="1.0"/>
<circle cx="429.0" cy="410.1" r="1.6" fill="#7ab6f5" stroke="#2456b4" stroke-width="1.0"/>
<circle cx="431.6" cy="410.1" r="1.6" fill="#7ab6f5" stroke="#2456b4" stroke-width="1.0"/>
<circle cx="430.7" cy="416.7" r="1.6" fill="#7ab6f5" stroke="#2456b4" stroke-width="1.0"/>
<circle cx="427.2" cy="428.6" r="1.6" fill="#7ab6f5" stroke="#2456b4" stroke-width="1.0"/>
<circle cx="421.1" cy="411.4" r="1.6" fill="#7ab6f5" stroke="#2456b4" stroke-width="1.0"/>
<circle cx="424.6" cy="418.0" r="1.6" fill="#7ab6f5" stroke="#2456b4" stroke-width="1.0"/>
<circle cx="360.1" cy="387.7" r="1.6" fill="#7ab6f5" stroke="#2456b4" stroke-width="1.0"/>
<circle cx="363.6" cy="389.0" r="1.6" fill="#7ab6f5" stroke="#2456b4" stroke-width="1.0"/>
<circle cx="366.2" cy="391.6" r="1.6" fill="#7ab6f5" stroke="#2456b4" stroke-width="1.0"/>
<circle cx="356.6" cy="393.0" r="1.6" fill="#7ab6f5" stroke="#2456b4" stroke-width="1.0"/>
<circle cx="347.9" cy="394.3" r="1.6" fill="#7ab6f5" stroke="#2456b4" stroke-width="1.0"/>
<circle cx="342.6" cy="399.6" r="1.6" fill="#7ab6f5" stroke="#2456b4" stroke-width="1.0"/>
<circle cx="351.4" cy="400.9" r="1.6" fill="#7ab6f5" stroke="#2456b4" stroke-width="1.0"/>
<circle cx="355.7" cy="399.6" r="1.6" fill="#7ab6f5" stroke="#2456b4" stroke-width="1.0"/>
<circle cx="367.9" cy="396.9" r="1.6" fill="#7ab6f5" stroke="#2456b4" stroke-width="1.0"/>
<circle cx="374.0" cy="396.9" r="1.6" fill="#7ab6f5" stroke="#2456b4" stroke-width="1.0"/>
<circle cx="381.0" cy="398.2" r="1.6" fill="#7ab6f5" stroke="#2456b4" stroke-width="1.0"/>
<circle cx="386.2" cy="395.6" r="1.6" fill="#7ab6f5" stroke="#2456b4" stroke-width="1.0"/>
<circle cx="389.7" cy="399.6" r="1.6" fill="#7ab6f5" stroke="#2456b4" stroke-width="1.0"/>
<circle cx="393.2" cy="400.9" r="1.6" fill="#7ab6f5" stroke="#2456b4" stroke-width="1.0"/>
<circle cx="400.2" cy="395.6" r="1.6" fill="#7ab6f5" stroke="#2456b4" stroke-width="1.0"/>
<circle cx="401.9" cy="400.9" r="1.6" fill="#7ab6f5" stroke="#2456b4" stroke-width="1.0"/>
<circle cx="325.2" cy="427.3" r="1.6" fill="#7ab6f5" stroke="#2456b4" stroke-width="1.0"/>
<circle cx="324.3" cy="433.9" r="1.6" fill="#7ab6f5" stroke="#2456b4" stroke-width="1.0"/>
<circle cx="326.9" cy="445.8" r="1.6" fill="#7ab6f5" stroke="#2456b4" stroke-width="1.0"/>
<circle cx="328.7" cy="448.4" r="1.6" fill="#7ab6f5" stroke="#2456b4" stroke-width="1.0"/>
<circle cx="327.8" cy="452.4" r="1.6" fill="#7ab6f5" stroke="#2456b4" stroke-width="1.0"/>
<circle cx="331.3" cy="457.6" r="1.6" fill="#7ab6f5" stroke="#2456b4" stroke-width="1.0"/>
<circle cx="334.8" cy="444.4" r="1.6" fill="#7ab6f5" stroke="#2456b4" stroke-width="1.0"/>
<circle cx="329.6" cy="423.3" r="1.6" fill="#7ab6f5" stroke="#2456b4" stroke-width="1.0"/>
<circle cx="333.0" cy="420.7" r="1.6" fill="#7ab6f5" stroke="#2456b4" stroke-width="1.0"/>
<circle cx="335.9" cy="426.1" r="1.6" fill="#7ab6f5" stroke="#2456b4" stroke-width="1.0"/>
<circle cx="393.9" cy="441.4" r="1.6" fill="#7ab6f5" stroke="#2456b4" stroke-width="1.0"/>
<circle cx="333.2" cy="433.7" r="1.6" fill="#7ab6f5" stroke="#2456b4" stroke-width="1.0"/>
<circle cx="380.4" cy="413.7" r="1.6" fill="#7ab6f5" stroke="#2456b4" stroke-width="1.0"/>
<circle cx="336.1" cy="454.7" r="1.6" fill="#7ab6f5" stroke="#2456b4" stroke-width="1.0"/>
<circle cx="386.4" cy="424.4" r="1.6" fill="#7ab6f5" stroke="#2456b4" stroke-width="1.0"/>
<circle cx="408.0" cy="415.7" r="1.6" fill="#7ab6f5" stroke="#2456b4" stroke-width="1.0"/>
<circle cx="365.3" cy="437.3" r="1.6" fill="#7ab6f5" stroke="#2456b4" stroke-width="1.0"/>
<circle cx="347.4" cy="452.1" r="1.6" fill="#7ab6f5" stroke="#2456b4" stroke-width="1.0"/>
<circle cx="370.4" cy="430.1" r="1.6" fill="#7ab6f5" stroke="#2456b4" stroke-width="1.0"/>
<circle cx="358.9" cy="433.6" r="1.6" fill="#7ab6f5" stroke="#2456b4" stroke-width="1.0"/>
<circle cx="375.1" cy="420.7" r="1.6" fill="#7ab6f5" stroke="#2456b4" stroke-width="1.0"/>
<circle cx="396.6" cy="429.0" r="1.6" fill="#7ab6f5" stroke="#2456b4" stroke-width="1.0"/>
<circle cx="330.8" cy="435.5" r="1.6" fill="#7ab6f5" stroke="#2456b4" stroke-width="1.0"/>
<circle cx="329.4" cy="432.5" r="1.6" fill="#7ab6f5" stroke="#2456b4" stroke-width="1.0"/>
<circle cx="347.6" cy="428.9" r="1.6" fill="#7ab6f5" stroke="#2456b4" stroke-width="1.0"/>
<circle cx="390.0" cy="455.3" r="1.6" fill="#7ab6f5" stroke="#2456b4" stroke-width="1.0"/>
<circle cx="360.4" cy="421.2" r="1.6" fill="#7ab6f5" stroke="#2456b4" stroke-width="1.0"/>
<circle cx="365.5" cy="426.2" r="1.6" fill="#7ab6f5" stroke="#2456b4" stroke-width="1.0"/>
<circle cx="370.6" cy="449.8" r="1.6" fill="#7ab6f5" stroke="#2456b4" stroke-width="1.0"/>
<circle cx="382.7" cy="446.5" r="1.6" fill="#7ab6f5" stroke="#2456b4" stroke-width="1.0"/>
<circle cx="416.9" cy="441.2" r="1.6" fill="#7ab6f5" stroke="#2456b4" stroke-width="1.0"/>
<circle cx="385.9" cy="432.5" r="1.6" fill="#7ab6f5" stroke="#2456b4" stroke-width="1.0"/>
<circle cx="392.8" cy="442.9" r="1.6" fill="#7ab6f5" stroke="#2456b4" stroke-width="1.0"/>
<circle cx="394.1" cy="434.7" r="1.6" fill="#7ab6f5" stroke="#2456b4" stroke-width="1.0"/>
<circle cx="401.0" cy="421.8" r="1.6" fill="#7ab6f5" stroke="#2456b4" stroke-width="1.0"/>
<circle cx="371.6" cy="445.9" r="1.6" fill="#7ab6f5" stroke="#2456b4" stroke-width="1.0"/>
<circle cx="388.0" cy="424.5" r="1.6" fill="#7ab6f5" stroke="#2456b4" stroke-width="1.0"/>
<circle cx="410.9" cy="439.0" r="1.6" fill="#7ab6f5" stroke="#2456b4" stroke-width="1.0"/>
<circle cx="382.4" cy="423.8" r="1.6" fill="#7ab6f5" stroke="#2456b4" stroke-width="1.0"/>
<circle cx="375.3" cy="429.0" r="1.6" fill="#7ab6f5" stroke="#2456b4" stroke-width="1.0"/>
<circle cx="372.7" cy="442.8" r="1.6" fill="#7ab6f5" stroke="#2456b4" stroke-width="1.0"/>
<circle cx="341.4" cy="439.4" r="1.6" fill="#7ab6f5" stroke="#2456b4" stroke-width="1.0"/>
<circle cx="383.4" cy="406.6" r="1.6" fill="#7ab6f5" stroke="#2456b4" stroke-width="1.0"/>
<circle cx="393.5" cy="414.5" r="1.6" fill="#7ab6f5" stroke="#2456b4" stroke-width="1.0"/>
<circle cx="388.3" cy="420.6" r="1.6" fill="#7ab6f5" stroke="#2456b4" stroke-width="1.0"/>
<circle cx="372.7" cy="419.3" r="1.6" fill="#7ab6f5" stroke="#2456b4" stroke-width="1.0"/>
<circle cx="414.3" cy="438.2" r="1.6" fill="#7ab6f5" stroke="#2456b4" stroke-width="1.0"/>
<circle cx="349.8" cy="398.9" r="1.6" fill="#7ab6f5" stroke="#2456b4" stroke-width="1.0"/>
<circle cx="374.3" cy="415.9" r="1.6" fill="#7ab6f5" stroke="#2456b4" stroke-width="1.0"/>
<circle cx="390.8" cy="452.0" r="1.6" fill="#7ab6f5" stroke="#2456b4" stroke-width="1.0"/>
<circle cx="372.5" cy="419.6" r="1.6" fill="#7ab6f5" stroke="#2456b4" stroke-width="1.0"/>
<circle cx="371.2" cy="447.7" r="1.6" fill="#7ab6f5" stroke="#2456b4" stroke-width="1.0"/>
<circle cx="365.0" cy="426.1" r="1.6" fill="#7ab6f5" stroke="#2456b4" stroke-width="1.0"/>
<circle cx="397.1" cy="420.4" r="1.6" fill="#7ab6f5" stroke="#2456b4" stroke-width="1.0"/>
<circle cx="369.5" cy="409.3" r="1.6" fill="#7ab6f5" stroke="#2456b4" stroke-width="1.0"/>
<circle cx="348.0" cy="419.0" r="1.6" fill="#7ab6f5" stroke="#2456b4" stroke-width="1.0"/>
<circle cx="397.0" cy="437.6" r="1.6" fill="#7ab6f5" stroke="#2456b4" stroke-width="1.0"/>
<circle cx="374.1" cy="423.5" r="1.6" fill="#7ab6f5" stroke="#2456b4" stroke-width="1.0"/>
<circle cx="408.4" cy="449.8" r="1.6" fill="#7ab6f5" stroke="#2456b4" stroke-width="1.0"/>
<circle cx="368.0" cy="421.4" r="1.6" fill="#7ab6f5" stroke="#2456b4" stroke-width="1.0"/>
<circle cx="389.0" cy="392.9" r="1.6" fill="#7ab6f5" stroke="#2456b4" stroke-width="1.0"/>
<circle cx="394.2" cy="448.3" r="1.6" fill="#7ab6f5" stroke="#2456b4" stroke-width="1.0"/>
<circle cx="357.1" cy="428.8" r="1.6" fill="#7ab6f5" stroke="#2456b4" stroke-width="1.0"/>
<circle cx="370.9" cy="405.8" r="1.6" fill="#7ab6f5" stroke="#2456b4" stroke-width="1.0"/>
<circle cx="365.8" cy="400.6" r="1.6" fill="#7ab6f5" stroke="#2456b4" stroke-width="1.0"/>
<circle cx="350.0" cy="440.7" r="1.6" fill="#7ab6f5" stroke="#2456b4" stroke-width="1.0"/>
<circle cx="386.8" cy="408.1" r="1.6" fill="#7ab6f5" stroke="#2456b4" stroke-width="1.0"/>
<circle cx="385.0" cy="427.4" r="1.6" fill="#7ab6f5" stroke="#2456b4" stroke-width="1.0"/>
<circle cx="351.9" cy="441.7" r="1.6" fill="#7ab6f5" stroke="#2456b4" stroke-width="1.0"/>
<circle cx="383.3" cy="438.3" r="1.6" fill="#7ab6f5" stroke="#2456b4" stroke-width="1.0"/>
<circle cx="388.5" cy="431.1" r="1.6" fill="#7ab6f5" stroke="#2456b4" stroke-width="1.0"/>
<circle cx="359.2" cy="430.5" r="1.6" fill="#7ab6f5" stroke="#2456b4" stroke-width="1.0"/>
<circle cx="379.1" cy="417.8" r="1.6" fill="#7ab6f5" stroke="#2456b4" stroke-width="1.0"/>
<circle cx="355.4" cy="436.6" r="1.6" fill="#7ab6f5" stroke="#2456b4" stroke-width="1.0"/>
<circle cx="332.2" cy="405.0" r="1.6" fill="#7ab6f5" stroke="#2456b4" stroke-width="1.0"/>
<circle cx="405.9" cy="435.6" r="1.6" fill="#7ab6f5" stroke="#2456b4" stroke-width="1.0"/>
<circle cx="355.4" cy="453.8" r="1.6" fill="#7ab6f5" stroke="#2456b4" stroke-width="1.0"/>
<circle cx="372.4" cy="429.0" r="1.6" fill="#7ab6f5" stroke="#2456b4" stroke-width="1.0"/>
<circle cx="425.0" cy="428.3" r="1.6" fill="#7ab6f5" stroke="#2456b4" stroke-width="1.0"/>
<circle cx="404.8" cy="429.3" r="1.6" fill="#7ab6f5" stroke="#2456b4" stroke-width="1.0"/>
<circle cx="325.8" cy="429.5" r="1.6" fill="#7ab6f5" stroke="#2456b4" stroke-width="1.0"/>
<circle cx="397.2" cy="422.7" r="1.6" fill="#7ab6f5" stroke="#2456b4" stroke-width="1.0"/>
<circle cx="364.6" cy="459.2" r="1.6" fill="#7ab6f5" stroke="#2456b4" stroke-width="1.0"/>
<circle cx="344.2" cy="411.6" r="1.6" fill="#7ab6f5" stroke="#2456b4" stroke-width="1.0"/>
<circle cx="410.9" cy="452.8" r="1.6" fill="#7ab6f5" stroke="#2456b4" stroke-width="1.0"/>
<circle cx="327.8" cy="417.5" r="1.6" fill="#7ab6f5" stroke="#2456b4" stroke-width="1.0"/>
<circle cx="390.2" cy="449.5" r="1.6" fill="#7ab6f5" stroke="#2456b4" stroke-width="1.0"/>
<circle cx="349.8" cy="444.5" r="1.6" fill="#7ab6f5" stroke="#2456b4" stroke-width="1.0"/>
<circle cx="336.8" cy="444.2" r="1.6" fill="#7ab6f5" stroke="#2456b4" stroke-width="1.0"/>
<circle cx="400.6" cy="420.7" r="1.6" fill="#7ab6f5" stroke="#2456b4" stroke-width="1.0"/>
<circle cx="421.7" cy="434.0" r="1.6" fill="#7ab6f5" stroke="#2456b4" stroke-width="1.0"/>
<circle cx="364.4" cy="449.4" r="1.6" fill="#7ab6f5" stroke="#2456b4" stroke-width="1.0"/>
<circle cx="364.7" cy="455.1" r="1.6" fill="#7ab6f5" stroke="#2456b4" stroke-width="1.0"/>
<circle cx="405.6" cy="418.2" r="1.6" fill="#7ab6f5" stroke="#2456b4" stroke-width="1.0"/>
<circle cx="402.8" cy="428.2" r="1.6" fill="#7ab6f5" stroke="#2456b4" stroke-width="1.0"/>
<circle cx="349.1" cy="431.1" r="1.6" fill="#7ab6f5" stroke="#2456b4" stroke-width="1.0"/>
<circle cx="358.1" cy="451.6" r="1.6" fill="#7ab6f5" stroke="#2456b4" stroke-width="1.0"/>
<circle cx="367.8" cy="430.0" r="1.6" fill="#7ab6f5" stroke="#2456b4" stroke-width="1.0"/>
<circle cx="355.5" cy="408.0" r="1.6" fill="#7ab6f5" stroke="#2456b4" stroke-width="1.0"/>
<circle cx="372.6" cy="422.6" r="1.6" fill="#7ab6f5" stroke="#2456b4" stroke-width="1.0"/>
<circle cx="399.8" cy="446.6" r="1.6" fill="#7ab6f5" stroke="#2456b4" stroke-width="1.0"/>
<circle cx="349.9" cy="410.1" r="1.6" fill="#7ab6f5" stroke="#2456b4" stroke-width="1.0"/>
<circle cx="376.8" cy="415.3" r="1.6" fill="#7ab6f5" stroke="#2456b4" stroke-width="1.0"/>
<circle cx="386.7" cy="444.1" r="1.6" fill="#7ab6f5" stroke="#2456b4" stroke-width="1.0"/>
<circle cx="348.1" cy="440.0" r="1.6" fill="#7ab6f5" stroke="#2456b4" stroke-width="1.0"/>
<circle cx="388.0" cy="417.4" r="1.6" fill="#7ab6f5" stroke="#2456b4" stroke-width="1.0"/>
<circle cx="394.4" cy="461.0" r="1.6" fill="#7ab6f5" stroke="#2456b4" stroke-width="1.0"/>
<circle cx="365.3" cy="422.3" r="1.6" fill="#7ab6f5" stroke="#2456b4" stroke-width="1.0"/>
<circle cx="347.9" cy="428.4" r="1.6" fill="#7ab6f5" stroke="#2456b4" stroke-width="1.0"/>
<circle cx="374.0" cy="415.3" r="1.6" fill="#7ab6f5" stroke="#2456b4" stroke-width="1.0"/>
<circle cx="346.4" cy="446.8" r="1.6" fill="#7ab6f5" stroke="#2456b4" stroke-width="1.0"/>
<circle cx="348.0" cy="402.5" r="1.6" fill="#7ab6f5" stroke="#2456b4" stroke-width="1.0"/>
<circle cx="396.5" cy="434.7" r="1.6" fill="#7ab6f5" stroke="#2456b4" stroke-width="1.0"/>
<circle cx="373.8" cy="430.6" r="1.6" fill="#7ab6f5" stroke="#2456b4" stroke-width="1.0"/>
<circle cx="373.2" cy="436.1" r="1.6" fill="#7ab6f5" stroke="#2456b4" stroke-width="1.0"/>
<circle cx="359.2" cy="454.1" r="1.6" fill="#7ab6f5" stroke="#2456b4" stroke-width="1.0"/>
<circle cx="351.1" cy="404.2" r="1.6" fill="#7ab6f5" stroke="#2456b4" stroke-width="1.0"/>
<circle cx="382.0" cy="431.4" r="1.6" fill="#7ab6f5" stroke="#2456b4" stroke-width="1.0"/>
<circle cx="362.3" cy="431.5" r="1.6" fill="#7ab6f5" stroke="#2456b4" stroke-width="1.0"/>
<circle cx="377.2" cy="443.6" r="1.6" fill="#7ab6f5" stroke="#2456b4" stroke-width="1.0"/>
<circle cx="373.1" cy="428.4" r="1.6" fill="#7ab6f5" stroke="#2456b4" stroke-width="1.0"/>
<circle cx="348.3" cy="446.1" r="1.6" fill="#7ab6f5" stroke="#2456b4" stroke-width="1.0"/>
<circle cx="341.8" cy="450.8" r="1.6" fill="#7ab6f5" stroke="#2456b4" stroke-width="1.0"/>
<circle cx="360.9" cy="443.0" r="1.6" fill="#7ab6f5" stroke="#2456b4" stroke-width="1.0"/>
<circle cx="351.7" cy="430.9" r="1.6" fill="#7ab6f5" stroke="#2456b4" stroke-width="1.0"/>
<circle cx="397.4" cy="431.2" r="1.6" fill="#7ab6f5" stroke="#2456b4" stroke-width="1.0"/>
<circle cx="364.3" cy="443.1" r="1.6" fill="#7ab6f5" stroke="#2456b4" stroke-width="1.0"/>
<circle cx="364.5" cy="416.9" r="1.6" fill="#7ab6f5" stroke="#2456b4" stroke-width="1.0"/>
<circle cx="357.6" cy="452.2" r="1.6" fill="#7ab6f5" stroke="#2456b4" stroke-width="1.0"/>
<circle cx="334.9" cy="451.6" r="1.6" fill="#7ab6f5" stroke="#2456b4" stroke-width="1.0"/>
<circle cx="331.6" cy="413.7" r="1.6" fill="#7ab6f5" stroke="#2456b4" stroke-width="1.0"/>
<circle cx="377.2" cy="436.6" r="1.6" fill="#7ab6f5" stroke="#2456b4" stroke-width="1.0"/>
<circle cx="406.1" cy="443.8" r="1.6" fill="#7ab6f5" stroke="#2456b4" stroke-width="1.0"/>
<circle cx="387.6" cy="418.8" r="1.6" fill="#7ab6f5" stroke="#2456b4" stroke-width="1.0"/>
<circle cx="343.7" cy="417.0" r="1.6" fill="#7ab6f5" stroke="#2456b4" stroke-width="1.0"/>
<circle cx="401.8" cy="453.6" r="1.6" fill="#7ab6f5" stroke="#2456b4" stroke-width="1.0"/>
<circle cx="395.3" cy="439.1" r="1.6" fill="#7ab6f5" stroke="#2456b4" stroke-width="1.0"/>
<circle cx="357.6" cy="442.0" r="1.6" fill="#7ab6f5" stroke="#2456b4" stroke-width="1.0"/>
<circle cx="341.7" cy="453.8" r="1.6" fill="#7ab6f5" stroke="#2456b4" stroke-width="1.0"/>
<circle cx="380.8" cy="396.7" r="1.6" fill="#7ab6f5" stroke="#2456b4" stroke-width="1.0"/>
<circle cx="343.3" cy="398.5" r="1.6" fill="#7ab6f5" stroke="#2456b4" stroke-width="1.0"/>
<circle cx="382.9" cy="445.1" r="1.6" fill="#7ab6f5" stroke="#2456b4" stroke-width="1.0"/>
<circle cx="392.4" cy="423.4" r="1.6" fill="#7ab6f5" stroke="#2456b4" stroke-width="1.0"/>
<circle cx="325.4" cy="441.7" r="1.6" fill="#7ab6f5" stroke="#2456b4" stroke-width="1.0"/>
<circle cx="361.7" cy="432.2" r="1.6" fill="#7ab6f5" stroke="#2456b4" stroke-width="1.0"/>
<circle cx="371.4" cy="438.4" r="1.6" fill="#7ab6f5" stroke="#2456b4" stroke-width="1.0"/>
<circle cx="372.9" cy="442.6" r="1.6" fill="#7ab6f5" stroke="#2456b4" stroke-width="1.0"/>
<circle cx="344.5" cy="406.5" r="1.6" fill="#7ab6f5" stroke="#2456b4" stroke-width="1.0"/>
<circle cx="377.3" cy="425.0" r="1.6" fill="#7ab6f5" stroke="#2456b4" stroke-width="1.0"/>
<circle cx="326.2" cy="435.4" r="1.6" fill="#7ab6f5" stroke="#2456b4" stroke-width="1.0"/>
<circle cx="389.3" cy="454.7" r="1.6" fill="#7ab6f5" stroke="#2456b4" stroke-width="1.0"/>
<circle cx="396.6" cy="439.2" r="1.6" fill="#7ab6f5" stroke="#2456b4" stroke-width="1.0"/>
<circle cx="378.5" cy="434.8" r="1.6" fill="#7ab6f5" stroke="#2456b4" stroke-width="1.0"/>
<circle cx="373.6" cy="411.9" r="1.6" fill="#7ab6f5" stroke="#2456b4" stroke-width="1.0"/>
<circle cx="357.4" cy="405.7" r="1.6" fill="#7ab6f5" stroke="#2456b4" stroke-width="1.0"/>
<circle cx="347.5" cy="448.5" r="1.6" fill="#7ab6f5" stroke="#2456b4" stroke-width="1.0"/>
<circle cx="386.5" cy="450.9" r="1.6" fill="#7ab6f5" stroke="#2456b4" stroke-width="1.0"/>
<circle cx="358.2" cy="417.0" r="1.6" fill="#7ab6f5" stroke="#2456b4" stroke-width="1.0"/>
<circle cx="381.2" cy="400.2" r="1.6" fill="#7ab6f5" stroke="#2456b4" stroke-width="1.0"/>
<circle cx="399.2" cy="436.7" r="1.6" fill="#7ab6f5" stroke="#2456b4" stroke-width="1.0"/>
<circle cx="352.2" cy="437.6" r="1.6" fill="#7ab6f5" stroke="#2456b4" stroke-width="1.0"/>
<circle cx="337.8" cy="437.1" r="1.6" fill="#7ab6f5" stroke="#2456b4" stroke-width="1.0"/>
<circle cx="363.0" cy="435.1" r="1.6" fill="#7ab6f5" stroke="#2456b4" stroke-width="1.0"/>
<circle cx="398.9" cy="436.5" r="1.6" fill="#7ab6f5" stroke="#2456b4" stroke-width="1.0"/>
<circle cx="329.8" cy="414.5" r="1.6" fill="#7ab6f5" stroke="#2456b4" stroke-width="1.0"/>
<circle cx="339.9" cy="440.2" r="1.6" fill="#7ab6f5" stroke="#2456b4" stroke-width="1.0"/>
<circle cx="364.4" cy="438.5" r="1.6" fill="#7ab6f5" stroke="#2456b4" stroke-width="1.0"/>
<circle cx="341.7" cy="436.8" r="1.6" fill="#7ab6f5" stroke="#2456b4" stroke-width="1.0"/>
<circle cx="364.4" cy="413.3" r="1.6" fill="#7ab6f5" stroke="#2456b4" stroke-width="1.0"/>
<circle cx="387.4" cy="419.5" r="1.6" fill="#7ab6f5" stroke="#2456b4" stroke-width="1.0"/>
<circle cx="345.3" cy="430.4" r="1.6" fill="#7ab6f5" stroke="#2456b4" stroke-width="1.0"/>
<circle cx="381.0" cy="410.3" r="1.6" fill="#7ab6f5" stroke="#2456b4" stroke-width="1.0"/>
<circle cx="380.2" cy="436.6" r="1.6" fill="#7ab6f5" stroke="#2456b4" stroke-width="1.0"/>
<circle cx="368.9" cy="436.2" r="1.6" fill="#7ab6f5" stroke="#2456b4" stroke-width="1.0"/>
<circle cx="374.4" cy="421.0" r="1.6" fill="#7ab6f5" stroke="#2456b4" stroke-width="1.0"/>
<circle cx="359.0" cy="446.5" r="1.6" fill="#7ab6f5" stroke="#2456b4" stroke-width="1.0"/>
<circle cx="345.6" cy="413.7" r="1.6" fill="#7ab6f5" stroke="#2456b4" stroke-width="1.0"/>
<circle cx="401.4" cy="415.5" r="1.6" fill="#7ab6f5" stroke="#2456b4" stroke-width="1.0"/>
<circle cx="390.3" cy="418.3" r="1.6" fill="#7ab6f5" stroke="#2456b4" stroke-width="1.0"/>
<circle cx="367.9" cy="421.2" r="1.6" fill="#7ab6f5" stroke="#2456b4" stroke-width="1.0"/>
<circle cx="340.4" cy="436.0" r="1.6" fill="#7ab6f5" stroke="#2456b4" stroke-width="1.0"/>
<circle cx="348.7" cy="420.1" r="1.6" fill="#7ab6f5" stroke="#2456b4" stroke-width="1.0"/>
<circle cx="352.7" cy="434.4" r="1.6" fill="#7ab6f5" stroke="#2456b4" stroke-width="1.0"/>
<circle cx="378.4" cy="409.3" r="1.6" fill="#7ab6f5" stroke="#2456b4" stroke-width="1.0"/>
<circle cx="347.2" cy="448.7" r="1.6" fill="#7ab6f5" stroke="#2456b4" stroke-width="1.0"/>
<circle cx="389.3" cy="451.5" r="1.6" fill="#7ab6f5" stroke="#2456b4" stroke-width="1.0"/>
<circle cx="379.8" cy="442.3" r="1.6" fill="#7ab6f5" stroke="#2456b4" stroke-width="1.0"/>
<circle cx="386.6" cy="441.1" r="1.6" fill="#7ab6f5" stroke="#2456b4" stroke-width="1.0"/>
<circle cx="344.4" cy="396.9" r="1.6" fill="#7ab6f5" stroke="#2456b4" stroke-width="1.0"/>
<circle cx="378.6" cy="438.5" r="1.6" fill="#7ab6f5" stroke="#2456b4" stroke-width="1.0"/>
<circle cx="370.7" cy="405.0" r="1.6" fill="#7ab6f5" stroke="#2456b4" stroke-width="1.0"/>
<circle cx="367.2" cy="424.8" r="1.6" fill="#7ab6f5" stroke="#2456b4" stroke-width="1.0"/>
<circle cx="381.4" cy="448.2" r="1.6" fill="#7ab6f5" stroke="#2456b4" stroke-width="1.0"/>
<circle cx="371.3" cy="441.2" r="1.6" fill="#7ab6f5" stroke="#2456b4" stroke-width="1.0"/>
<circle cx="335.3" cy="417.6" r="1.6" fill="#7ab6f5" stroke="#2456b4" stroke-width="1.0"/>
<circle cx="385.3" cy="431.3" r="1.6" fill="#7ab6f5" stroke="#2456b4" stroke-width="1.0"/>
<circle cx="380.6" cy="434.2" r="1.6" fill="#7ab6f5" stroke="#2456b4" stroke-width="1.0"/>
<circle cx="328.1" cy="433.0" r="1.6" fill="#7ab6f5" stroke="#2456b4" stroke-width="1.0"/>
<circle cx="371.7" cy="426.5" r="1.6" fill="#7ab6f5" stroke="#2456b4" stroke-width="1.0"/>
<circle cx="373.6" cy="429.6" r="1.6" fill="#7ab6f5" stroke="#2456b4" stroke-width="1.0"/>
<circle cx="338.1" cy="439.1" r="1.6" fill="#7ab6f5" stroke="#2456b4" stroke-width="1.0"/>
<circle cx="354.5" cy="436.6" r="1.6" fill="#7ab6f5" stroke="#2456b4" stroke-width="1.0"/>
<circle cx="375.0" cy="421.9" r="1.6" fill="#7ab6f5" stroke="#2456b4" stroke-width="1.0"/>
<circle cx="378.4" cy="436.0" r="1.6" fill="#7ab6f5" stroke="#2456b4" stroke-width="1.0"/>
<circle cx="354.3" cy="415.5" r="1.6" fill="#7ab6f5" stroke="#2456b4" stroke-width="1.0"/>
<circle cx="340.3" cy="434.3" r="1.6" fill="#7ab6f5" stroke="#2456b4" stroke-width="1.0"/>
<circle cx="364.5" cy="434.2" r="1.6" fill="#7ab6f5" stroke="#2456b4" stroke-width="1.0"/>
<circle cx="380.0" cy="415.4" r="1.6" fill="#7ab6f5" stroke="#2456b4" stroke-width="1.0"/>
<circle cx="366.1" cy="450.0" r="1.6" fill="#7ab6f5" stroke="#2456b4" stroke-width="1.0"/>
<circle cx="373.2" cy="422.9" r="1.6" fill="#7ab6f5" stroke="#2456b4" stroke-width="1.0"/>
<circle cx="363.3" cy="432.8" r="1.6" fill="#7ab6f5" stroke="#2456b4" stroke-width="1.0"/>
<circle cx="404.8" cy="451.8" r="1.6" fill="#7ab6f5" stroke="#2456b4" stroke-width="1.0"/>
<circle cx="349.6" cy="445.3" r="1.6" fill="#7ab6f5" stroke="#2456b4" stroke-width="1.0"/>
<circle cx="342.8" cy="444.5" r="1.6" fill="#7ab6f5" stroke="#2456b4" stroke-width="1.0"/>
<circle cx="414.9" cy="435.9" r="1.6" fill="#7ab6f5" stroke="#2456b4" stroke-width="1.0"/>
<circle cx="364.9" cy="394.8" r="1.6" fill="#7ab6f5" stroke="#2456b4" stroke-width="1.0"/>
<circle cx="378.5" cy="448.6" r="1.6" fill="#7ab6f5" stroke="#2456b4" stroke-width="1.0"/>
<circle cx="410.8" cy="453.9" r="1.6" fill="#7ab6f5" stroke="#2456b4" stroke-width="1.0"/>
<circle cx="352.7" cy="460.1" r="1.6" fill="#7ab6f5" stroke="#2456b4" stroke-width="1.0"/>
<circle cx="370.5" cy="450.0" r="1.6" fill="#7ab6f5" stroke="#2456b4" stroke-width="1.0"/>
<circle cx="366.2" cy="439.0" r="1.6" fill="#7ab6f5" stroke="#2456b4" stroke-width="1.0"/>
<circle cx="351.9" cy="416.4" r="1.6" fill="#7ab6f5" stroke="#2456b4" stroke-width="1.0"/>
<circle cx="392.4" cy="431.5" r="1.6" fill="#7ab6f5" stroke="#2456b4" stroke-width="1.0"/>
<circle cx="344.4" cy="450.9" r="1.6" fill="#7ab6f5" stroke="#2456b4" stroke-width="1.0"/>
<circle cx="375.0" cy="391.5" r="1.6" fill="#7ab6f5" stroke="#2456b4" stroke-width="1.0"/>
<circle cx="356.0" cy="446.0" r="1.6" fill="#7ab6f5" stroke="#2456b4" stroke-width="1.0"/>
<circle cx="349.7" cy="451.4" r="1.6" fill="#7ab6f5" stroke="#2456b4" stroke-width="1.0"/>
<circle cx="342.5" cy="436.1" r="1.6" fill="#7ab6f5" stroke="#2456b4" stroke-width="1.0"/>
<circle cx="405.4" cy="432.6" r="1.6" fill="#7ab6f5" stroke="#2456b4" stroke-width="1.0"/>
<circle cx="354.6" cy="460.3" r="1.6" fill="#7ab6f5" stroke="#2456b4" stroke-width="1.0"/>
<circle cx="373.5" cy="433.0" r="1.6" fill="#7ab6f5" stroke="#2456b4" stroke-width="1.0"/>
<circle cx="335.8" cy="451.2" r="1.6" fill="#7ab6f5" stroke="#2456b4" stroke-width="1.0"/>
<circle cx="366.8" cy="415.2" r="1.6" fill="#7ab6f5" stroke="#2456b4" stroke-width="1.0"/>
<circle cx="384.3" cy="429.0" r="1.6" fill="#7ab6f5" stroke="#2456b4" stroke-width="1.0"/>
<circle cx="359.5" cy="427.1" r="1.6" fill="#7ab6f5" stroke="#2456b4" stroke-width="1.0"/>
<circle cx="367.6" cy="395.3" r="1.6" fill="#7ab6f5" stroke="#2456b4" stroke-width="1.0"/>
<circle cx="338.3" cy="438.9" r="1.6" fill="#7ab6f5" stroke="#2456b4" stroke-width="1.0"/>
<circle cx="401.1" cy="437.1" r="1.6" fill="#7ab6f5" stroke="#2456b4" stroke-width="1.0"/>
<circle cx="405.2" cy="433.3" r="1.6" fill="#7ab6f5" stroke="#2456b4" stroke-width="1.0"/>
<circle cx="371.7" cy="438.9" r="1.6" fill="#7ab6f5" stroke="#2456b4" stroke-width="1.0"/>
<circle cx="331.8" cy="449.2" r="1.6" fill="#7ab6f5" stroke="#2456b4" stroke-width="1.0"/>
<circle cx="425.9" cy="421.5" r="1.6" fill="#7ab6f5" stroke="#2456b4" stroke-width="1.0"/>
<circle cx="383.8" cy="416.2" r="1.6" fill="#7ab6f5" stroke="#2456b4" stroke-width="1.0"/>
<circle cx="382.8" cy="415.0" r="1.6" fill="#7ab6f5" stroke="#2456b4" stroke-width="1.0"/>
<circle cx="361.0" cy="436.4" r="1.6" fill="#7ab6f5" stroke="#2456b4" stroke-width="1.0"/>
<circle cx="393.7" cy="438.6" r="1.6" fill="#7ab6f5" stroke="#2456b4" stroke-width="1.0"/>
<circle cx="333.1" cy="436.4" r="1.6" fill="#7ab6f5" stroke="#2456b4" stroke-width="1.0"/>
<circle cx="353.7" cy="422.0" r="1.6" fill="#7ab6f5" stroke="#2456b4" stroke-width="1.0"/>
<circle cx="349.1" cy="450.8" r="1.6" fill="#7ab6f5" stroke="#2456b4" stroke-width="1.0"/>
<circle cx="359.2" cy="405.9" r="1.6" fill="#7ab6f5" stroke="#2456b4" stroke-width="1.0"/>
<circle cx="366.7" cy="429.8" r="1.6" fill="#7ab6f5" stroke="#2456b4" stroke-width="1.0"/>
<circle cx="368.2" cy="427.5" r="1.6" fill="#7ab6f5" stroke="#2456b4" stroke-width="1.0"/>
<circle cx="392.2" cy="408.6" r="1.6" fill="#7ab6f5" stroke="#2456b4" stroke-width="1.0"/>
<circle cx="367.8" cy="438.1" r="1.6" fill="#7ab6f5" stroke="#2456b4" stroke-width="1.0"/>
<circle cx="418.8" cy="415.9" r="1.6" fill="#7ab6f5" stroke="#2456b4" stroke-width="1.0"/>
<circle cx="341.0" cy="424.2" r="1.6" fill="#7ab6f5" stroke="#2456b4" stroke-width="1.0"/>
<circle cx="387.2" cy="434.7" r="1.6" fill="#7ab6f5" stroke="#2456b4" stroke-width="1.0"/>
<circle cx="362.9" cy="451.6" r="1.6" fill="#7ab6f5" stroke="#2456b4" stroke-width="1.0"/>
<circle cx="415.7" cy="436.8" r="1.6" fill="#7ab6f5" stroke="#2456b4" stroke-width="1.0"/>
<circle cx="357.6" cy="437.7" r="1.6" fill="#7ab6f5" stroke="#2456b4" stroke-width="1.0"/>
<circle cx="347.4" cy="445.9" r="1.6" fill="#7ab6f5" stroke="#2456b4" stroke-width="1.0"/>
<circle cx="370.4" cy="427.2" r="1.6" fill="#7ab6f5" stroke="#2456b4" stroke-width="1.0"/>
<circle cx="354.6" cy="434.1" r="1.6" fill="#7ab6f5" stroke="#2456b4" stroke-width="1.0"/>
<circle cx="331.6" cy="423.6" r="1.6" fill="#7ab6f5" stroke="#2456b4" stroke-width="1.0"/>
<circle cx="348.3" cy="428.9" r="1.6" fill="#7ab6f5" stroke="#2456b4" stroke-width="1.0"/>
<circle cx="344.2" cy="441.4" r="1.6" fill="#7ab6f5" stroke="#2456b4" stroke-width="1.0"/>
<circle cx="373.5" cy="453.3" r="1.6" fill="#7ab6f5" stroke="#2456b4" stroke-width="1.0"/>
<circle cx="366.0" cy="445.2" r="1.6" fill="#7ab6f5" stroke="#2456b4" stroke-width="1.0"/>
<circle cx="409.6" cy="408.8" r="1.6" fill="#7ab6f5" stroke="#2456b4" stroke-width="1.0"/>
<circle cx="375.8" cy="456.0" r="1.6" fill="#7ab6f5" stroke="#2456b4" stroke-width="1.0"/>
<circle cx="354.7" cy="422.0" r="1.6" fill="#7ab6f5" stroke="#2456b4" stroke-width="1.0"/>
<circle cx="354.5" cy="452.9" r="1.6" fill="#7ab6f5" stroke="#2456b4" stroke-width="1.0"/>
<circle cx="336.9" cy="445.8" r="1.6" fill="#7ab6f5" stroke="#2456b4" stroke-width="1.0"/>
<circle cx="368.3" cy="443.7" r="1.6" fill="#7ab6f5" stroke="#2456b4" stroke-width="1.0"/>
<circle cx="414.3" cy="450.4" r="1.6" fill="#7ab6f5" stroke="#2456b4" stroke-width="1.0"/>
<circle cx="376.9" cy="431.1" r="1.6" fill="#7ab6f5" stroke="#2456b4" stroke-width="1.0"/>
<circle cx="364.3" cy="414.7" r="1.6" fill="#7ab6f5" stroke="#2456b4" stroke-width="1.0"/>
<circle cx="359.2" cy="438.1" r="1.6" fill="#7ab6f5" stroke="#2456b4" stroke-width="1.0"/>
<circle cx="358.1" cy="434.3" r="1.6" fill="#7ab6f5" stroke="#2456b4" stroke-width="1.0"/>
<circle cx="401.6" cy="419.2" r="1.6" fill="#7ab6f5" stroke="#2456b4" stroke-width="1.0"/>
<circle cx="332.8" cy="440.1" r="1.6" fill="#7ab6f5" stroke="#2456b4" stroke-width="1.0"/>
<circle cx="347.1" cy="418.6" r="1.6" fill="#7ab6f5" stroke="#2456b4" stroke-width="1.0"/>
<circle cx="373.8" cy="417.3" r="1.6" fill="#7ab6f5" stroke="#2456b4" stroke-width="1.0"/>
<circle cx="379.7" cy="428.7" r="1.6" fill="#7ab6f5" stroke="#2456b4" stroke-width="1.0"/>
<circle cx="381.2" cy="454.9" r="1.6" fill="#7ab6f5" stroke="#2456b4" stroke-width="1.0"/>
<circle cx="370.0" cy="444.4" r="1.6" fill="#7ab6f5" stroke="#2456b4" stroke-width="1.0"/>
<circle cx="349.9" cy="426.5" r="1.6" fill="#7ab6f5" stroke="#2456b4" stroke-width="1.0"/>
<circle cx="377.1" cy="447.9" r="1.6" fill="#7ab6f5" stroke="#2456b4" stroke-width="1.0"/>
<circle cx="352.9" cy="413.3" r="1.6" fill="#7ab6f5" stroke="#2456b4" stroke-width="1.0"/>
<circle cx="345.4" cy="425.3" r="1.6" fill="#7ab6f5" stroke="#2456b4" stroke-width="1.0"/>
<circle cx="411.7" cy="412.5" r="1.6" fill="#7ab6f5" stroke="#2456b4" stroke-width="1.0"/>
<circle cx="377.5" cy="429.2" r="1.6" fill="#7ab6f5" stroke="#2456b4" stroke-width="1.0"/>
<circle cx="340.2" cy="440.3" r="1.6" fill="#7ab6f5" stroke="#2456b4" stroke-width="1.0"/>
<circle cx="359.2" cy="445.8" r="1.6" fill="#7ab6f5" stroke="#2456b4" stroke-width="1.0"/>
<circle cx="369.6" cy="439.3" r="1.6" fill="#7ab6f5" stroke="#2456b4" stroke-width="1.0"/>
<circle cx="376.7" cy="408.0" r="1.6" fill="#7ab6f5" stroke="#2456b4" stroke-width="1.0"/>
<circle cx="387.3" cy="425.4" r="1.6" fill="#7ab6f5" stroke="#2456b4" stroke-width="1.0"/>
<circle cx="361.6" cy="458.6" r="1.6" fill="#7ab6f5" stroke="#2456b4" stroke-width="1.0"/>
<circle cx="364.9" cy="423.2" r="1.6" fill="#7ab6f5" stroke="#2456b4" stroke-width="1.0"/>
<line x1="279.7" y1="434.5" x2="442.9" y2="422.0" stroke="#8a3345" stroke-width="1.0"/>
</g>
<text transform="translate(242.40,437.60) rotate(-90)" font-size="8.6" font-weight="bold" fill="#000" text-anchor="middle" textLength="31" lengthAdjust="spacingAndGlyphs">VEGF-C</text>
<text x="349.8" y="529" font-size="8.6" font-weight="bold" fill="#000" text-anchor="middle" textLength="19.5" lengthAdjust="spacingAndGlyphs">TSP4</text>
<g id="panelG">
<rect x="484.4" y="330" width="340" height="175" fill="#fcefe3"/>
<text x="497" y="345.8" font-size="12" font-weight="normal" fill="#1f2735" textLength="173.5" lengthAdjust="spacingAndGlyphs" stroke="#1f2735" stroke-width="0.55">Tumor Microenvironment</text>
<path d="M729,393 C712,396 697,410 691,428 C697,448 712,461 729,466 Z" fill="#f4e2b0" opacity="0.9"/>
<path d="M515.5,368.3 C512,365.5 510,364 508.2,362.5 M577.4,376.3 C582,374.5 585,372.5 589,371.2 M580.3,391.6 C584,391.4 587,391.6 589.8,392.3 M513.3,404.7 C508,408 504,411 500.9,414.9 M552.6,412 C556,414.6 559,416.4 562.8,417.8 M573,403 C577,405 580,406 583,406.5" fill="none" stroke="#7e3d30" stroke-width="1.25"/>
<path d="M577.3,387.0 L577.9,388.1 L578.4,389.3 L578.8,390.5 L578.9,391.7 L578.9,392.9 L578.6,394.1 L578.1,395.3 L577.3,396.3 L576.4,397.3 L575.3,398.2 L574.1,399.1 L572.8,399.8 L572.6,401.0 L572.3,402.2 L571.8,403.4 L571.1,404.5 L570.3,405.5 L569.3,406.5 L568.1,407.2 L566.8,407.9 L565.3,408.4 L563.8,408.8 L562.2,409.0 L560.6,409.2 L559.6,410.1 L558.5,411.1 L557.4,411.9 L556.1,412.6 L554.7,413.2 L553.2,413.6 L551.7,413.8 L550.1,413.8 L548.5,413.7 L546.9,413.5 L545.4,413.1 L543.9,412.6 L542.4,413.1 L540.9,413.5 L539.3,413.7 L537.7,413.8 L536.1,413.8 L534.6,413.6 L533.1,413.2 L531.7,412.6 L530.4,411.9 L529.3,411.1 L528.2,410.1 L527.2,409.2 L525.6,409.0 L524.0,408.8 L522.5,408.4 L521.0,407.9 L519.7,407.2 L518.5,406.5 L517.5,405.5 L516.7,404.5 L516.0,403.4 L515.5,402.2 L515.2,401.0 L515.0,399.8 L513.7,399.1 L512.5,398.2 L511.4,397.3 L510.5,396.3 L509.7,395.3 L509.2,394.1 L508.9,392.9 L508.9,391.7 L509.0,390.5 L509.4,389.3 L509.9,388.1 L510.5,387.0 L509.9,385.9 L509.4,384.7 L509.0,383.5 L508.9,382.3 L508.9,381.1 L509.2,379.9 L509.7,378.7 L510.5,377.7 L511.4,376.7 L512.5,375.8 L513.7,374.9 L515.0,374.2 L515.2,373.0 L515.5,371.8 L516.0,370.6 L516.7,369.5 L517.5,368.5 L518.5,367.5 L519.7,366.8 L521.0,366.1 L522.5,365.6 L524.0,365.2 L525.6,365.0 L527.2,364.8 L528.2,363.9 L529.3,362.9 L530.4,362.1 L531.7,361.4 L533.1,360.8 L534.6,360.4 L536.1,360.2 L537.7,360.2 L539.3,360.3 L540.9,360.5 L542.4,360.9 L543.9,361.4 L545.4,360.9 L546.9,360.5 L548.5,360.3 L550.1,360.2 L551.7,360.2 L553.2,360.4 L554.7,360.8 L556.1,361.4 L557.4,362.1 L558.5,362.9 L559.6,363.9 L560.6,364.8 L562.2,365.0 L563.8,365.2 L565.3,365.6 L566.8,366.1 L568.1,366.8 L569.3,367.5 L570.3,368.5 L571.1,369.5 L571.8,370.6 L572.3,371.8 L572.6,373.0 L572.8,374.2 L574.1,374.9 L575.3,375.8 L576.4,376.7 L577.3,377.7 L578.1,378.7 L578.6,379.9 L578.9,381.1 L578.9,382.3 L578.8,383.5 L578.4,384.7 L577.9,385.9 L577.3,387.0 Z" fill="#fff" stroke="#fff" stroke-width="3" opacity="0.55"/>
<path d="M577.1,387.0 L577.7,388.1 L578.2,389.3 L578.6,390.5 L578.7,391.7 L578.7,392.9 L578.4,394.1 L577.9,395.2 L577.1,396.3 L576.2,397.2 L575.1,398.1 L573.9,399.0 L572.7,399.7 L572.4,400.9 L572.1,402.1 L571.6,403.3 L571.0,404.4 L570.2,405.4 L569.1,406.3 L568.0,407.1 L566.6,407.7 L565.2,408.2 L563.7,408.6 L562.1,408.8 L560.5,409.0 L559.5,410.0 L558.5,410.9 L557.3,411.7 L556.0,412.4 L554.6,413.0 L553.1,413.4 L551.6,413.6 L550.0,413.6 L548.5,413.5 L546.9,413.3 L545.4,412.9 L543.9,412.4 L542.4,412.9 L540.9,413.3 L539.3,413.5 L537.8,413.6 L536.2,413.6 L534.7,413.4 L533.2,413.0 L531.8,412.4 L530.5,411.7 L529.3,410.9 L528.3,410.0 L527.3,409.0 L525.7,408.8 L524.1,408.6 L522.6,408.2 L521.2,407.7 L519.8,407.1 L518.7,406.3 L517.6,405.4 L516.8,404.4 L516.2,403.3 L515.7,402.1 L515.4,400.9 L515.1,399.7 L513.9,399.0 L512.7,398.1 L511.6,397.2 L510.7,396.3 L509.9,395.2 L509.4,394.1 L509.1,392.9 L509.1,391.7 L509.2,390.5 L509.6,389.3 L510.1,388.1 L510.7,387.0 L510.1,385.9 L509.6,384.7 L509.2,383.5 L509.1,382.3 L509.1,381.1 L509.4,379.9 L509.9,378.8 L510.7,377.7 L511.6,376.8 L512.7,375.9 L513.9,375.0 L515.1,374.3 L515.4,373.1 L515.7,371.9 L516.2,370.7 L516.8,369.6 L517.6,368.6 L518.7,367.7 L519.8,366.9 L521.2,366.3 L522.6,365.8 L524.1,365.4 L525.7,365.2 L527.3,365.0 L528.3,364.0 L529.3,363.1 L530.5,362.3 L531.8,361.6 L533.2,361.0 L534.7,360.6 L536.2,360.4 L537.8,360.4 L539.3,360.5 L540.9,360.7 L542.4,361.1 L543.9,361.6 L545.4,361.1 L546.9,360.7 L548.5,360.5 L550.0,360.4 L551.6,360.4 L553.1,360.6 L554.6,361.0 L556.0,361.6 L557.3,362.3 L558.5,363.1 L559.5,364.0 L560.5,365.0 L562.1,365.2 L563.7,365.4 L565.2,365.8 L566.6,366.3 L568.0,366.9 L569.1,367.7 L570.2,368.6 L571.0,369.6 L571.6,370.7 L572.1,371.9 L572.4,373.1 L572.7,374.3 L573.9,375.0 L575.1,375.9 L576.2,376.8 L577.1,377.7 L577.9,378.8 L578.4,379.9 L578.7,381.1 L578.7,382.3 L578.6,383.5 L578.2,384.7 L577.7,385.9 L577.1,387.0 Z" fill="#efb49c" stroke="#ab4f3a" stroke-width="1.4" stroke-linejoin="round"/>
<path d="M570.3,386.3 L570.8,387.4 L571.0,388.6 L570.9,389.7 L570.7,390.9 L570.1,391.9 L569.3,393.0 L568.3,393.9 L567.2,394.7 L565.9,395.5 L564.9,396.3 L564.6,397.4 L564.1,398.5 L563.5,399.6 L562.6,400.6 L561.5,401.4 L560.3,402.2 L558.9,402.8 L557.4,403.2 L555.9,403.4 L554.2,403.5 L552.6,403.5 L551.1,403.7 L549.9,404.4 L548.5,405.0 L547.0,405.5 L545.5,405.9 L543.9,406.1 L542.3,406.1 L540.7,405.9 L539.2,405.5 L537.8,405.0 L536.4,404.3 L535.2,403.5 L533.9,403.0 L532.3,402.9 L530.7,402.8 L529.1,402.5 L527.6,402.0 L526.3,401.4 L525.0,400.7 L524.0,399.8 L523.2,398.8 L522.5,397.7 L522.1,396.6 L521.9,395.5 L521.4,394.4 L520.2,393.7 L519.1,392.8 L518.1,391.9 L517.4,390.8 L516.9,389.7 L516.6,388.6 L516.6,387.4 L516.8,386.3 L517.3,385.2 L518.0,384.1 L518.8,383.1 L519.4,382.1 L519.2,381.0 L519.1,379.8 L519.2,378.6 L519.5,377.5 L520.1,376.4 L520.9,375.4 L522.0,374.5 L523.2,373.8 L524.5,373.1 L526.0,372.6 L527.5,372.3 L528.9,371.8 L529.7,370.8 L530.7,369.8 L531.8,369.0 L533.1,368.3 L534.5,367.7 L536.0,367.3 L537.6,367.1 L539.2,367.1 L540.8,367.3 L542.4,367.6 L543.9,368.0 L545.4,368.2 L546.9,367.8 L548.5,367.6 L550.1,367.5 L551.7,367.5 L553.3,367.7 L554.8,368.1 L556.2,368.7 L557.4,369.4 L558.5,370.3 L559.5,371.2 L560.3,372.3 L561.2,373.1 L562.7,373.5 L564.1,374.1 L565.5,374.7 L566.7,375.5 L567.7,376.4 L568.5,377.4 L569.0,378.5 L569.3,379.6 L569.4,380.8 L569.3,382.0 L569.0,383.1 L568.9,384.2 L569.7,385.2 L570.3,386.3 Z" fill="#eca88e" stroke="#cf866d" stroke-width="0.8"/>
<path d="M519,370 C523,373 525,376 525,379 M531,363 C533,367 536,369 540,370 M552,362 C551,366 553,369 557,370 M568,369 C565,372 564,375 565,379 M575,383 C571,385 569,388 570,392 M571,401 C567,400 564,402 562,405 M551,409 C550,405 547,403 543,403 M531,408 C532,404 530,401 526,400 M516,399 C520,397 521,394 520,390 M512,385 C516,385 518,383 519,380" fill="none" stroke="#c9735c" stroke-width="0.8"/>
<path d="M560.2,385.8 L560.3,386.6 L560.4,387.4 L560.3,388.2 L560.1,389.0 L559.7,389.8 L559.2,390.6 L558.6,391.3 L557.9,391.9 L557.0,392.5 L556.1,393.0 L555.3,393.4 L554.6,394.1 L553.8,394.7 L552.9,395.2 L552.0,395.7 L550.9,396.0 L549.9,396.3 L548.7,396.5 L547.6,396.6 L546.4,396.6 L545.3,396.5 L544.2,396.3 L543.1,396.1 L542.0,396.1 L540.9,396.1 L539.7,395.9 L538.6,395.7 L537.6,395.3 L536.6,394.9 L535.7,394.4 L534.9,393.8 L534.2,393.2 L533.6,392.5 L533.1,391.7 L532.6,391.0 L531.9,390.4 L531.3,389.7 L530.7,389.0 L530.3,388.2 L530.0,387.4 L529.9,386.6 L529.9,385.8 L530.0,385.0 L530.3,384.2 L530.7,383.4 L531.2,382.7 L531.7,382.0 L531.9,381.2 L532.3,380.4 L532.7,379.7 L533.3,379.0 L534.0,378.3 L534.8,377.7 L535.7,377.2 L536.7,376.8 L537.7,376.4 L538.8,376.2 L539.9,376.0 L541.0,375.8 L542.0,375.5 L543.1,375.2 L544.2,375.0 L545.3,374.8 L546.5,374.8 L547.6,374.9 L548.7,375.1 L549.8,375.4 L550.9,375.7 L551.8,376.2 L552.7,376.7 L553.5,377.2 L554.6,377.5 L555.5,377.9 L556.5,378.4 L557.3,379.0 L558.1,379.6 L558.7,380.3 L559.2,381.0 L559.6,381.8 L559.8,382.6 L559.9,383.4 L559.9,384.2 L559.9,385.0 L560.2,385.8 Z" fill="#b8705f" stroke="#9a5143" stroke-width="1"/>
<circle cx="525" cy="372" r="0.9" fill="#8e4a3e"/>
<circle cx="536.6" cy="371.2" r="0.9" fill="#8e4a3e"/>
<circle cx="517" cy="381.4" r="0.9" fill="#8e4a3e"/>
<circle cx="524.2" cy="381.4" r="0.9" fill="#8e4a3e"/>
<circle cx="521.3" cy="386.5" r="0.9" fill="#8e4a3e"/>
<circle cx="525" cy="391.6" r="0.9" fill="#8e4a3e"/>
<circle cx="533.7" cy="400.3" r="0.9" fill="#8e4a3e"/>
<circle cx="554.8" cy="401" r="0.9" fill="#8e4a3e"/>
<circle cx="567.2" cy="386.5" r="0.9" fill="#8e4a3e"/>
<path d="M562.8,394.5 L595.5,409.2" stroke="#1f2735" stroke-width="1.2" fill="none"/><path d="M599,410.8 L592.4,410.8 L594.8,405.8 Z" fill="#1f2735"/>
<ellipse cx="602.1" cy="369.6" rx="6" ry="4.9" fill="#ad3f2b"/>
<text x="602.1" y="372.7" font-size="8.6" font-weight="bold" fill="#fff" text-anchor="middle">1</text>
<text x="613.7" y="372.6" font-size="8.6" font-weight="bold" fill="#1f2735" textLength="94.6" lengthAdjust="spacingAndGlyphs">Cancer cell-secreted</text>
<text x="613.7" y="382.2" font-size="8.6" font-weight="bold" fill="#1f2735" textLength="62" lengthAdjust="spacingAndGlyphs">TSP4 triggers</text>
<text x="613.7" y="391.6" font-size="8.6" font-weight="bold" fill="#1f2735" textLength="78.5" lengthAdjust="spacingAndGlyphs">LEC recruitment</text>
<ellipse cx="502.7" cy="477.1" rx="6" ry="4.9" fill="#ad3f2b"/>
<text x="502.7" y="480.2" font-size="8.6" font-weight="bold" fill="#fff" text-anchor="middle">2</text>
<text x="517.1" y="479.4" font-size="8.6" font-weight="bold" fill="#1f2735" textLength="152" lengthAdjust="spacingAndGlyphs">TSP4-induced <tspan fill="#2b83a3">VEGF-C</tspan> promotes</text>
<text x="517.1" y="489.1" font-size="8.6" font-weight="bold" fill="#1f2735" textLength="90.2" lengthAdjust="spacingAndGlyphs">LEC tube formation</text>
<text x="631" y="410.6" font-size="8.6" font-weight="bold" fill="#1f2735" textLength="18" lengthAdjust="spacingAndGlyphs">LEC</text>
<text x="647.4" y="458" font-size="8.6" font-weight="bold" fill="#1f2735" textLength="17.5" lengthAdjust="spacingAndGlyphs">LEC</text>
<path d="M658.3,408 L663.8,404.4 L663.8,406.3 L672.5,406.3 L672.5,409.7 L663.8,409.7 L663.8,411.6 Z" fill="#fdf6ee" stroke="#1f2735" stroke-width="1" stroke-linejoin="round"/>
<path d="M673,455 L678.5,451.4 L678.5,453.3 L686.7,453.3 L686.7,456.7 L678.5,456.7 L678.5,458.6 Z" fill="#fdf6ee" stroke="#1f2735" stroke-width="1" stroke-linejoin="round"/>
<path d="M616,414.5 C635,416 660,417.5 700,417.5" fill="none" stroke="#4f8f2f" stroke-width="4.9" stroke-linecap="round" stroke-linejoin="round"/>
<path d="M597,425 C610,431 622,438 636,443.5 C655,446 680,446 702,445" fill="none" stroke="#4f8f2f" stroke-width="4.9" stroke-linecap="round" stroke-linejoin="round"/>
<path d="M600,446.5 C610,446 620,444 630,443" fill="none" stroke="#4f8f2f" stroke-width="4.9" stroke-linecap="round" stroke-linejoin="round"/>
<path d="M612,453 C620,450 628,447 634,444.5" fill="none" stroke="#4f8f2f" stroke-width="4.9" stroke-linecap="round" stroke-linejoin="round"/>
<path d="M656,420 C668,428 680,438 690,445" fill="none" stroke="#4f8f2f" stroke-width="4.9" stroke-linecap="round" stroke-linejoin="round"/>
<path d="M630,427 C650,432 672,438 690,445" fill="none" stroke="#4f8f2f" stroke-width="4.9" stroke-linecap="round" stroke-linejoin="round"/>
<path d="M720,402 C713,407.5 706,412 700,417.5 C701,428 702,436 702,445 C708,450 714,455 721,459.5" fill="none" stroke="#4f8f2f" stroke-width="4.9" stroke-linecap="round" stroke-linejoin="round"/>
<path d="M700,417.5 C708,418 715,419.5 721.5,420.5" fill="none" stroke="#4f8f2f" stroke-width="4.9" stroke-linecap="round" stroke-linejoin="round"/>
<path d="M692.5,446.5 L702,434.5 L710.5,450.5 Z" fill="#86bf52" stroke="#4f8f2f" stroke-width="1.4" stroke-linejoin="round"/><path d="M694,415.6 L706.5,416.6 L700.6,425 Z" fill="#86bf52" stroke="#4f8f2f" stroke-width="1.4" stroke-linejoin="round"/>
<path d="M616,414.5 C635,416 660,417.5 700,417.5" fill="none" stroke="#86bf52" stroke-width="3.4000000000000004" stroke-linecap="round" stroke-linejoin="round"/>
<path d="M597,425 C610,431 622,438 636,443.5 C655,446 680,446 702,445" fill="none" stroke="#86bf52" stroke-width="3.4000000000000004" stroke-linecap="round" stroke-linejoin="round"/>
<path d="M600,446.5 C610,446 620,444 630,443" fill="none" stroke="#86bf52" stroke-width="3.4000000000000004" stroke-linecap="round" stroke-linejoin="round"/>
<path d="M612,453 C620,450 628,447 634,444.5" fill="none" stroke="#86bf52" stroke-width="3.4000000000000004" stroke-linecap="round" stroke-linejoin="round"/>
<path d="M656,420 C668,428 680,438 690,445" fill="none" stroke="#86bf52" stroke-width="3.4000000000000004" stroke-linecap="round" stroke-linejoin="round"/>
<path d="M630,427 C650,432 672,438 690,445" fill="none" stroke="#86bf52" stroke-width="3.4000000000000004" stroke-linecap="round" stroke-linejoin="round"/>
<path d="M720,402 C713,407.5 706,412 700,417.5 C701,428 702,436 702,445 C708,450 714,455 721,459.5" fill="none" stroke="#86bf52" stroke-width="3.4000000000000004" stroke-linecap="round" stroke-linejoin="round"/>
<path d="M700,417.5 C708,418 715,419.5 721.5,420.5" fill="none" stroke="#86bf52" stroke-width="3.4000000000000004" stroke-linecap="round" stroke-linejoin="round"/>
<path d="M632,413.8 L631.6,417.8 M648,414.8 L647.6,418.8 M664,415.4 L663.8,419.4 M682,415.5 L682,419.5 M610,429 L608.4,432.6 M623,436 L621.4,439.6 M650,443.4 L649.6,447.4 M668,444 L667.8,448 M684,443.6 L684,447.6 M668,427 L665.6,430 M679,435.6 L676.6,438.6 M648,430 L647,433.8 M668,436 L667,439.8" stroke="#4f8f2f" stroke-width="0.8" fill="none"/>
<ellipse cx="706.0" cy="402.8" rx="4.2" ry="2.3" transform="rotate(143.7 706.0 402.8)" fill="#f3d063" stroke="#c4932b" stroke-width="0.9"/>
<ellipse cx="700.0" cy="407.3" rx="4.3" ry="2.3" transform="rotate(142.5 700.0 407.3)" fill="#f3d063" stroke="#c4932b" stroke-width="0.9"/>
<ellipse cx="694.9" cy="412.8" rx="4.3" ry="2.3" transform="rotate(123.3 694.9 412.8)" fill="#f3d063" stroke="#c4932b" stroke-width="0.9"/>
<ellipse cx="692.0" cy="419.7" rx="4.3" ry="2.3" transform="rotate(102.2 692.0 419.7)" fill="#f3d063" stroke="#c4932b" stroke-width="0.9"/>
<ellipse cx="691.4" cy="427.0" rx="4.1" ry="2.3" transform="rotate(86.8 691.4 427.0)" fill="#f3d063" stroke="#c4932b" stroke-width="0.9"/>
<ellipse cx="692.6" cy="433.3" rx="3.4" ry="2.3" transform="rotate(69.7 692.6 433.3)" fill="#f3d063" stroke="#c4932b" stroke-width="0.9"/>
<ellipse cx="695.1" cy="438.2" rx="3.2" ry="2.3" transform="rotate(55.7 695.1 438.2)" fill="#f3d063" stroke="#c4932b" stroke-width="0.9"/>
<circle cx="604.8" cy="413.9" r="2" fill="#8fc3d8" stroke="#4b93b5" stroke-width="1"/>
<circle cx="592.8" cy="432" r="2" fill="#8fc3d8" stroke="#4b93b5" stroke-width="1"/>
<circle cx="631" cy="435" r="2" fill="#8fc3d8" stroke="#4b93b5" stroke-width="1"/>
<circle cx="589.5" cy="449.5" r="2" fill="#8fc3d8" stroke="#4b93b5" stroke-width="1"/>
<circle cx="600" cy="456.5" r="2" fill="#8fc3d8" stroke="#4b93b5" stroke-width="1"/>
<circle cx="638.6" cy="452.5" r="2" fill="#8fc3d8" stroke="#4b93b5" stroke-width="1"/>
<circle cx="612.4" cy="406.6" r="1.7" fill="#a24838" stroke="#7e3427" stroke-width="0.6"/>
<circle cx="579.7" cy="411.7" r="1.7" fill="#a24838" stroke="#7e3427" stroke-width="0.6"/>
<circle cx="586.6" cy="420.4" r="1.7" fill="#a24838" stroke="#7e3427" stroke-width="0.6"/>
<rect x="731.4" y="338.4" width="76.6" height="145.6" rx="5" fill="#fcf1e6" stroke="#2a2f38" stroke-width="1.4"/>
<rect x="754.1" y="344" width="32.8" height="11.8" fill="#fdf6ef" stroke="#b5483a" stroke-width="1.1"/>
<text x="770.5" y="353.4" font-size="9.4" font-weight="bold" fill="#b23c30" text-anchor="middle" textLength="24.5" lengthAdjust="spacingAndGlyphs">TSP4</text>
<path d="M771.2,358.4 L771.2,367.8" stroke="#1f2735" stroke-width="2" fill="none"/><path d="M767.4000000000001,364.8 L771.2,368.6 L775.0,364.8" stroke="#1f2735" stroke-width="2" fill="none" stroke-linejoin="miter"/>
<text x="772.2" y="379.2" font-size="8.4" font-weight="normal" fill="#1f2735" text-anchor="middle" textLength="57.6" lengthAdjust="spacingAndGlyphs" stroke="#1f2735" stroke-width="0.35">Integrin αvβ3</text>
<path d="M771.2,382.5 L771.2,391.2" stroke="#1f2735" stroke-width="2" fill="none"/><path d="M767.4000000000001,388.2 L771.2,392.0 L775.0,388.2" stroke="#1f2735" stroke-width="2" fill="none" stroke-linejoin="miter"/>
<text x="771.7" y="400.2" font-size="8.4" font-weight="normal" fill="#1f2735" text-anchor="middle" textLength="16.4" lengthAdjust="spacingAndGlyphs" stroke="#1f2735" stroke-width="0.35">FAK</text>
<path d="M771.2,405.2 L771.2,414.2" stroke="#1f2735" stroke-width="2" fill="none"/><path d="M767.4000000000001,411.2 L771.2,415.0 L775.0,411.2" stroke="#1f2735" stroke-width="2" fill="none" stroke-linejoin="miter"/>
<text x="771.8" y="424.3" font-size="8.4" font-weight="normal" fill="#1f2735" text-anchor="middle" textLength="15.3" lengthAdjust="spacingAndGlyphs" stroke="#1f2735" stroke-width="0.35">ERK</text>
<path d="M771.2,427 L771.2,435.4" stroke="#1f2735" stroke-width="2" fill="none"/><path d="M767.4000000000001,432.4 L771.2,436.2 L775.0,432.4" stroke="#1f2735" stroke-width="2" fill="none" stroke-linejoin="miter"/>
<rect x="750.8" y="439.3" width="41.8" height="12" fill="#fdf6ef" stroke="#b5483a" stroke-width="1.1"/>
<text x="771.7" y="448.9" font-size="9.4" font-weight="bold" fill="#b23c30" text-anchor="middle" textLength="35" lengthAdjust="spacingAndGlyphs">ICAM-1</text>
<path d="M771.2,454.7 L771.2,463" stroke="#1f2735" stroke-width="2" fill="none"/><path d="M767.4000000000001,460 L771.2,463.8 L775.0,460" stroke="#1f2735" stroke-width="2" fill="none" stroke-linejoin="miter"/>
<rect x="738.4" y="467.6" width="64" height="12.2" fill="#fbe0d0" stroke="#eebba2" stroke-width="1"/>
<text x="771" y="476.6" font-size="7.4" font-weight="normal" fill="#1f2735" text-anchor="middle" textLength="58.5" lengthAdjust="spacingAndGlyphs" stroke="#1f2735" stroke-width="0.2">LEC recruitment</text>
</g>
</g>
</svg></body></html>
